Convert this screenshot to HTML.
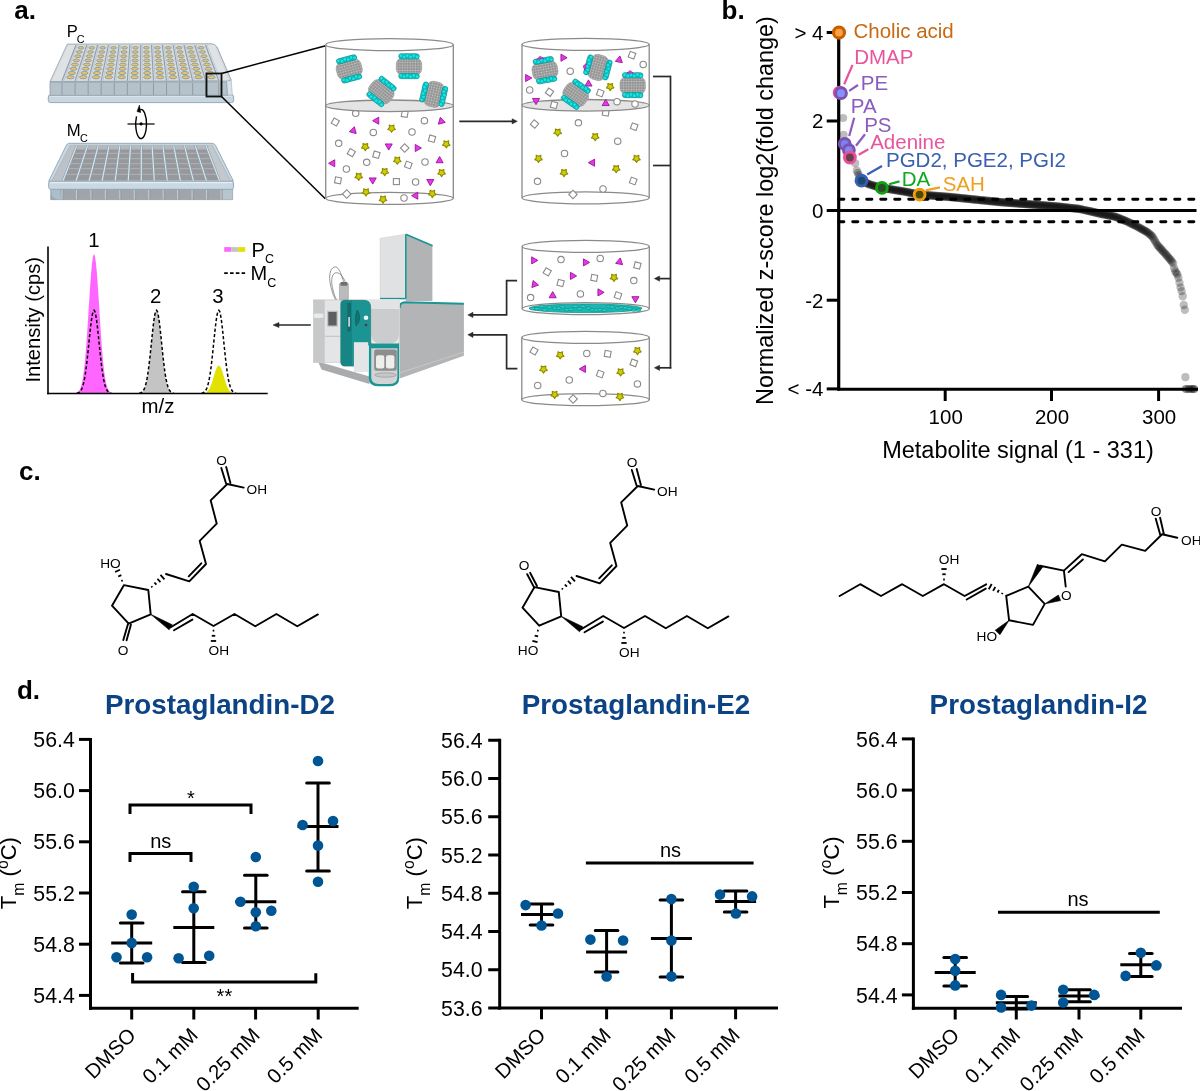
<!DOCTYPE html>
<html><head><meta charset="utf-8"><style>
html,body{margin:0;padding:0;background:#fff;width:1200px;height:1091px;overflow:hidden}
svg{display:block;will-change:transform;font-family:"Liberation Sans",sans-serif}
</style></head><body>
<svg width="1200" height="1091" viewBox="0 0 1200 1091">
<rect width="1200" height="1091" fill="#fff"/>
<defs>
<pattern id="speck" width="2.6" height="2.6" patternUnits="userSpaceOnUse">
<rect width="2.6" height="2.6" fill="#8e8e8e"/>
<circle cx="1.3" cy="1.3" r="0.95" fill="#c4c4c4"/>
</pattern>
</defs>
<text x="14.3" y="19.3" font-size="26" text-anchor="start" font-weight="bold" fill="#000" >a.</text>
<text x="66.8" y="36.8" font-size="16.5" text-anchor="start" font-weight="normal" fill="#000" >P</text>
<text x="76.8" y="42.7" font-size="10.8" text-anchor="start" font-weight="normal" fill="#000" >C</text>
<text x="66.8" y="135.9" font-size="16.7" text-anchor="start" font-weight="normal" fill="#000" >M</text>
<text x="79.9" y="141.9" font-size="10.8" text-anchor="start" font-weight="normal" fill="#000" >C</text>
<rect x="48.3" y="94.8" width="185.4" height="7.8" rx="2.2" fill="#c7d6df" stroke="#8ea4b4" stroke-width="0.9"/>
<line x1="50" y1="96.2" x2="232" y2="96.2" stroke="#e2ecf1" stroke-width="0.9" />
<polygon points="217,47 231.2,80.2 232.4,95 226,95 224,79" fill="#d9e3e9" stroke="#9fb1bd" stroke-width="0.6" />
<polygon points="50,81.6 226.5,80.6 227.5,95.2 50,95.4" fill="#b6c2c9" stroke="#8ea0ae" stroke-width="0.8" />
<line x1="50.5" y1="82.6" x2="226.5" y2="82.2" stroke="#a3b1bb" stroke-width="1" />
<path d="M67.3,44.1 L211,43.7 Q215,43.7 217,47 L231.2,80.2 L226.5,80.8 L50,81.6 Z" fill="#d6dbdf" stroke="#91a3b0" stroke-width="0.8" />
<polygon points="68.5,45 76,45 62,80.8 52,81" fill="#dfe2e4" stroke="none" stroke-width="0" />
<polygon points="205.5,45 214.5,45 228.5,80.4 218.8,80.6" fill="#dfe3e6" stroke="none" stroke-width="0" />
<line x1="62" y1="83" x2="62" y2="95" stroke="#8e9ca7" stroke-width="1" />
<line x1="75.07" y1="83" x2="75.07" y2="95" stroke="#8e9ca7" stroke-width="1" />
<line x1="88.13" y1="83" x2="88.13" y2="95" stroke="#8e9ca7" stroke-width="1" />
<line x1="101.2" y1="83" x2="101.2" y2="95" stroke="#8e9ca7" stroke-width="1" />
<line x1="114.27" y1="83" x2="114.27" y2="95" stroke="#8e9ca7" stroke-width="1" />
<line x1="127.33" y1="83" x2="127.33" y2="95" stroke="#8e9ca7" stroke-width="1" />
<line x1="140.4" y1="83" x2="140.4" y2="95" stroke="#8e9ca7" stroke-width="1" />
<line x1="153.47" y1="83" x2="153.47" y2="95" stroke="#8e9ca7" stroke-width="1" />
<line x1="166.53" y1="83" x2="166.53" y2="95" stroke="#8e9ca7" stroke-width="1" />
<line x1="179.6" y1="83" x2="179.6" y2="95" stroke="#8e9ca7" stroke-width="1" />
<line x1="192.67" y1="83" x2="192.67" y2="95" stroke="#8e9ca7" stroke-width="1" />
<line x1="205.73" y1="83" x2="205.73" y2="95" stroke="#8e9ca7" stroke-width="1" />
<line x1="218.8" y1="83" x2="218.8" y2="95" stroke="#8e9ca7" stroke-width="1" />
<line x1="76" y1="45" x2="62" y2="80.8" stroke="#8d9eab" stroke-width="1.1" />
<line x1="77.6" y1="45" x2="63.9" y2="80.8" stroke="#aebbc5" stroke-width="0.6" />
<line x1="86.79" y1="45" x2="75.07" y2="80.8" stroke="#8d9eab" stroke-width="1.1" />
<line x1="88.39" y1="45" x2="76.97" y2="80.8" stroke="#aebbc5" stroke-width="0.6" />
<line x1="97.58" y1="45" x2="88.13" y2="80.8" stroke="#8d9eab" stroke-width="1.1" />
<line x1="99.18" y1="45" x2="90.03" y2="80.8" stroke="#aebbc5" stroke-width="0.6" />
<line x1="108.38" y1="45" x2="101.2" y2="80.8" stroke="#8d9eab" stroke-width="1.1" />
<line x1="109.97" y1="45" x2="103.1" y2="80.8" stroke="#aebbc5" stroke-width="0.6" />
<line x1="119.17" y1="45" x2="114.27" y2="80.8" stroke="#8d9eab" stroke-width="1.1" />
<line x1="120.77" y1="45" x2="116.17" y2="80.8" stroke="#aebbc5" stroke-width="0.6" />
<line x1="129.96" y1="45" x2="127.33" y2="80.8" stroke="#8d9eab" stroke-width="1.1" />
<line x1="131.56" y1="45" x2="129.23" y2="80.8" stroke="#aebbc5" stroke-width="0.6" />
<line x1="140.75" y1="45" x2="140.4" y2="80.8" stroke="#8d9eab" stroke-width="1.1" />
<line x1="142.35" y1="45" x2="142.3" y2="80.8" stroke="#aebbc5" stroke-width="0.6" />
<line x1="151.54" y1="45" x2="153.47" y2="80.8" stroke="#8d9eab" stroke-width="1.1" />
<line x1="153.14" y1="45" x2="155.37" y2="80.8" stroke="#aebbc5" stroke-width="0.6" />
<line x1="162.33" y1="45" x2="166.53" y2="80.8" stroke="#8d9eab" stroke-width="1.1" />
<line x1="163.93" y1="45" x2="168.43" y2="80.8" stroke="#aebbc5" stroke-width="0.6" />
<line x1="173.12" y1="45" x2="179.6" y2="80.8" stroke="#8d9eab" stroke-width="1.1" />
<line x1="174.72" y1="45" x2="181.5" y2="80.8" stroke="#aebbc5" stroke-width="0.6" />
<line x1="183.92" y1="45" x2="192.67" y2="80.8" stroke="#8d9eab" stroke-width="1.1" />
<line x1="185.52" y1="45" x2="194.57" y2="80.8" stroke="#aebbc5" stroke-width="0.6" />
<line x1="194.71" y1="45" x2="205.73" y2="80.8" stroke="#8d9eab" stroke-width="1.1" />
<line x1="196.31" y1="45" x2="207.63" y2="80.8" stroke="#aebbc5" stroke-width="0.6" />
<line x1="205.5" y1="45" x2="218.8" y2="80.8" stroke="#8d9eab" stroke-width="1.1" />
<line x1="207.1" y1="45" x2="220.7" y2="80.8" stroke="#aebbc5" stroke-width="0.6" />
<ellipse cx="80.9" cy="47.8" rx="2.9" ry="1.25" fill="#dfc672" stroke="#7e8891" stroke-width="0.7"/>
<ellipse cx="91.82" cy="47.8" rx="2.9" ry="1.25" fill="#dfc672" stroke="#7e8891" stroke-width="0.7"/>
<ellipse cx="102.74" cy="47.8" rx="2.9" ry="1.25" fill="#dfc672" stroke="#7e8891" stroke-width="0.7"/>
<ellipse cx="113.65" cy="47.8" rx="2.9" ry="1.25" fill="#dfc672" stroke="#7e8891" stroke-width="0.7"/>
<ellipse cx="124.57" cy="47.8" rx="2.9" ry="1.25" fill="#dfc672" stroke="#7e8891" stroke-width="0.7"/>
<ellipse cx="135.49" cy="47.8" rx="2.9" ry="1.25" fill="#dfc672" stroke="#7e8891" stroke-width="0.7"/>
<ellipse cx="146.41" cy="47.8" rx="2.9" ry="1.25" fill="#dfc672" stroke="#7e8891" stroke-width="0.7"/>
<ellipse cx="157.33" cy="47.8" rx="2.9" ry="1.25" fill="#dfc672" stroke="#7e8891" stroke-width="0.7"/>
<ellipse cx="168.25" cy="47.8" rx="2.9" ry="1.25" fill="#dfc672" stroke="#7e8891" stroke-width="0.7"/>
<ellipse cx="179.16" cy="47.8" rx="2.9" ry="1.25" fill="#dfc672" stroke="#7e8891" stroke-width="0.7"/>
<ellipse cx="190.08" cy="47.8" rx="2.9" ry="1.25" fill="#dfc672" stroke="#7e8891" stroke-width="0.7"/>
<ellipse cx="201" cy="47.8" rx="2.9" ry="1.25" fill="#dfc672" stroke="#7e8891" stroke-width="0.7"/>
<ellipse cx="79.4" cy="52" rx="3.01" ry="1.3" fill="#dfc672" stroke="#7e8891" stroke-width="0.7"/>
<ellipse cx="90.59" cy="52" rx="3.01" ry="1.3" fill="#dfc672" stroke="#7e8891" stroke-width="0.7"/>
<ellipse cx="101.78" cy="52" rx="3.01" ry="1.3" fill="#dfc672" stroke="#7e8891" stroke-width="0.7"/>
<ellipse cx="112.97" cy="52" rx="3.01" ry="1.3" fill="#dfc672" stroke="#7e8891" stroke-width="0.7"/>
<ellipse cx="124.16" cy="52" rx="3.01" ry="1.3" fill="#dfc672" stroke="#7e8891" stroke-width="0.7"/>
<ellipse cx="135.35" cy="52" rx="3.01" ry="1.3" fill="#dfc672" stroke="#7e8891" stroke-width="0.7"/>
<ellipse cx="146.55" cy="52" rx="3.01" ry="1.3" fill="#dfc672" stroke="#7e8891" stroke-width="0.7"/>
<ellipse cx="157.74" cy="52" rx="3.01" ry="1.3" fill="#dfc672" stroke="#7e8891" stroke-width="0.7"/>
<ellipse cx="168.93" cy="52" rx="3.01" ry="1.3" fill="#dfc672" stroke="#7e8891" stroke-width="0.7"/>
<ellipse cx="180.12" cy="52" rx="3.01" ry="1.3" fill="#dfc672" stroke="#7e8891" stroke-width="0.7"/>
<ellipse cx="191.31" cy="52" rx="3.01" ry="1.3" fill="#dfc672" stroke="#7e8891" stroke-width="0.7"/>
<ellipse cx="202.5" cy="52" rx="3.01" ry="1.3" fill="#dfc672" stroke="#7e8891" stroke-width="0.7"/>
<ellipse cx="77.9" cy="56.2" rx="3.13" ry="1.35" fill="#dfc672" stroke="#7e8891" stroke-width="0.7"/>
<ellipse cx="89.36" cy="56.2" rx="3.13" ry="1.35" fill="#dfc672" stroke="#7e8891" stroke-width="0.7"/>
<ellipse cx="100.83" cy="56.2" rx="3.13" ry="1.35" fill="#dfc672" stroke="#7e8891" stroke-width="0.7"/>
<ellipse cx="112.29" cy="56.2" rx="3.13" ry="1.35" fill="#dfc672" stroke="#7e8891" stroke-width="0.7"/>
<ellipse cx="123.75" cy="56.2" rx="3.13" ry="1.35" fill="#dfc672" stroke="#7e8891" stroke-width="0.7"/>
<ellipse cx="135.22" cy="56.2" rx="3.13" ry="1.35" fill="#dfc672" stroke="#7e8891" stroke-width="0.7"/>
<ellipse cx="146.68" cy="56.2" rx="3.13" ry="1.35" fill="#dfc672" stroke="#7e8891" stroke-width="0.7"/>
<ellipse cx="158.15" cy="56.2" rx="3.13" ry="1.35" fill="#dfc672" stroke="#7e8891" stroke-width="0.7"/>
<ellipse cx="169.61" cy="56.2" rx="3.13" ry="1.35" fill="#dfc672" stroke="#7e8891" stroke-width="0.7"/>
<ellipse cx="181.07" cy="56.2" rx="3.13" ry="1.35" fill="#dfc672" stroke="#7e8891" stroke-width="0.7"/>
<ellipse cx="192.54" cy="56.2" rx="3.13" ry="1.35" fill="#dfc672" stroke="#7e8891" stroke-width="0.7"/>
<ellipse cx="204" cy="56.2" rx="3.13" ry="1.35" fill="#dfc672" stroke="#7e8891" stroke-width="0.7"/>
<ellipse cx="76.4" cy="60.4" rx="3.24" ry="1.4" fill="#dfc672" stroke="#7e8891" stroke-width="0.7"/>
<ellipse cx="88.14" cy="60.4" rx="3.24" ry="1.4" fill="#dfc672" stroke="#7e8891" stroke-width="0.7"/>
<ellipse cx="99.87" cy="60.4" rx="3.24" ry="1.4" fill="#dfc672" stroke="#7e8891" stroke-width="0.7"/>
<ellipse cx="111.61" cy="60.4" rx="3.24" ry="1.4" fill="#dfc672" stroke="#7e8891" stroke-width="0.7"/>
<ellipse cx="123.35" cy="60.4" rx="3.24" ry="1.4" fill="#dfc672" stroke="#7e8891" stroke-width="0.7"/>
<ellipse cx="135.08" cy="60.4" rx="3.24" ry="1.4" fill="#dfc672" stroke="#7e8891" stroke-width="0.7"/>
<ellipse cx="146.82" cy="60.4" rx="3.24" ry="1.4" fill="#dfc672" stroke="#7e8891" stroke-width="0.7"/>
<ellipse cx="158.55" cy="60.4" rx="3.24" ry="1.4" fill="#dfc672" stroke="#7e8891" stroke-width="0.7"/>
<ellipse cx="170.29" cy="60.4" rx="3.24" ry="1.4" fill="#dfc672" stroke="#7e8891" stroke-width="0.7"/>
<ellipse cx="182.03" cy="60.4" rx="3.24" ry="1.4" fill="#dfc672" stroke="#7e8891" stroke-width="0.7"/>
<ellipse cx="193.76" cy="60.4" rx="3.24" ry="1.4" fill="#dfc672" stroke="#7e8891" stroke-width="0.7"/>
<ellipse cx="205.5" cy="60.4" rx="3.24" ry="1.4" fill="#dfc672" stroke="#7e8891" stroke-width="0.7"/>
<ellipse cx="74.9" cy="64.6" rx="3.36" ry="1.45" fill="#dfc672" stroke="#7e8891" stroke-width="0.7"/>
<ellipse cx="86.91" cy="64.6" rx="3.36" ry="1.45" fill="#dfc672" stroke="#7e8891" stroke-width="0.7"/>
<ellipse cx="98.92" cy="64.6" rx="3.36" ry="1.45" fill="#dfc672" stroke="#7e8891" stroke-width="0.7"/>
<ellipse cx="110.93" cy="64.6" rx="3.36" ry="1.45" fill="#dfc672" stroke="#7e8891" stroke-width="0.7"/>
<ellipse cx="122.94" cy="64.6" rx="3.36" ry="1.45" fill="#dfc672" stroke="#7e8891" stroke-width="0.7"/>
<ellipse cx="134.95" cy="64.6" rx="3.36" ry="1.45" fill="#dfc672" stroke="#7e8891" stroke-width="0.7"/>
<ellipse cx="146.95" cy="64.6" rx="3.36" ry="1.45" fill="#dfc672" stroke="#7e8891" stroke-width="0.7"/>
<ellipse cx="158.96" cy="64.6" rx="3.36" ry="1.45" fill="#dfc672" stroke="#7e8891" stroke-width="0.7"/>
<ellipse cx="170.97" cy="64.6" rx="3.36" ry="1.45" fill="#dfc672" stroke="#7e8891" stroke-width="0.7"/>
<ellipse cx="182.98" cy="64.6" rx="3.36" ry="1.45" fill="#dfc672" stroke="#7e8891" stroke-width="0.7"/>
<ellipse cx="194.99" cy="64.6" rx="3.36" ry="1.45" fill="#dfc672" stroke="#7e8891" stroke-width="0.7"/>
<ellipse cx="207" cy="64.6" rx="3.36" ry="1.45" fill="#dfc672" stroke="#7e8891" stroke-width="0.7"/>
<ellipse cx="73.4" cy="68.8" rx="3.47" ry="1.5" fill="#dfc672" stroke="#7e8891" stroke-width="0.7"/>
<ellipse cx="85.68" cy="68.8" rx="3.47" ry="1.5" fill="#dfc672" stroke="#7e8891" stroke-width="0.7"/>
<ellipse cx="97.96" cy="68.8" rx="3.47" ry="1.5" fill="#dfc672" stroke="#7e8891" stroke-width="0.7"/>
<ellipse cx="110.25" cy="68.8" rx="3.47" ry="1.5" fill="#dfc672" stroke="#7e8891" stroke-width="0.7"/>
<ellipse cx="122.53" cy="68.8" rx="3.47" ry="1.5" fill="#dfc672" stroke="#7e8891" stroke-width="0.7"/>
<ellipse cx="134.81" cy="68.8" rx="3.47" ry="1.5" fill="#dfc672" stroke="#7e8891" stroke-width="0.7"/>
<ellipse cx="147.09" cy="68.8" rx="3.47" ry="1.5" fill="#dfc672" stroke="#7e8891" stroke-width="0.7"/>
<ellipse cx="159.37" cy="68.8" rx="3.47" ry="1.5" fill="#dfc672" stroke="#7e8891" stroke-width="0.7"/>
<ellipse cx="171.65" cy="68.8" rx="3.47" ry="1.5" fill="#dfc672" stroke="#7e8891" stroke-width="0.7"/>
<ellipse cx="183.94" cy="68.8" rx="3.47" ry="1.5" fill="#dfc672" stroke="#7e8891" stroke-width="0.7"/>
<ellipse cx="196.22" cy="68.8" rx="3.47" ry="1.5" fill="#dfc672" stroke="#7e8891" stroke-width="0.7"/>
<ellipse cx="208.5" cy="68.8" rx="3.47" ry="1.5" fill="#dfc672" stroke="#7e8891" stroke-width="0.7"/>
<ellipse cx="71.9" cy="73" rx="3.59" ry="1.55" fill="#dfc672" stroke="#7e8891" stroke-width="0.7"/>
<ellipse cx="84.45" cy="73" rx="3.59" ry="1.55" fill="#dfc672" stroke="#7e8891" stroke-width="0.7"/>
<ellipse cx="97.01" cy="73" rx="3.59" ry="1.55" fill="#dfc672" stroke="#7e8891" stroke-width="0.7"/>
<ellipse cx="109.56" cy="73" rx="3.59" ry="1.55" fill="#dfc672" stroke="#7e8891" stroke-width="0.7"/>
<ellipse cx="122.12" cy="73" rx="3.59" ry="1.55" fill="#dfc672" stroke="#7e8891" stroke-width="0.7"/>
<ellipse cx="134.67" cy="73" rx="3.59" ry="1.55" fill="#dfc672" stroke="#7e8891" stroke-width="0.7"/>
<ellipse cx="147.23" cy="73" rx="3.59" ry="1.55" fill="#dfc672" stroke="#7e8891" stroke-width="0.7"/>
<ellipse cx="159.78" cy="73" rx="3.59" ry="1.55" fill="#dfc672" stroke="#7e8891" stroke-width="0.7"/>
<ellipse cx="172.34" cy="73" rx="3.59" ry="1.55" fill="#dfc672" stroke="#7e8891" stroke-width="0.7"/>
<ellipse cx="184.89" cy="73" rx="3.59" ry="1.55" fill="#dfc672" stroke="#7e8891" stroke-width="0.7"/>
<ellipse cx="197.45" cy="73" rx="3.59" ry="1.55" fill="#dfc672" stroke="#7e8891" stroke-width="0.7"/>
<ellipse cx="210" cy="73" rx="3.59" ry="1.55" fill="#dfc672" stroke="#7e8891" stroke-width="0.7"/>
<ellipse cx="70.4" cy="77.2" rx="3.7" ry="1.6" fill="#dfc672" stroke="#7e8891" stroke-width="0.7"/>
<ellipse cx="83.23" cy="77.2" rx="3.7" ry="1.6" fill="#dfc672" stroke="#7e8891" stroke-width="0.7"/>
<ellipse cx="96.05" cy="77.2" rx="3.7" ry="1.6" fill="#dfc672" stroke="#7e8891" stroke-width="0.7"/>
<ellipse cx="108.88" cy="77.2" rx="3.7" ry="1.6" fill="#dfc672" stroke="#7e8891" stroke-width="0.7"/>
<ellipse cx="121.71" cy="77.2" rx="3.7" ry="1.6" fill="#dfc672" stroke="#7e8891" stroke-width="0.7"/>
<ellipse cx="134.54" cy="77.2" rx="3.7" ry="1.6" fill="#dfc672" stroke="#7e8891" stroke-width="0.7"/>
<ellipse cx="147.36" cy="77.2" rx="3.7" ry="1.6" fill="#dfc672" stroke="#7e8891" stroke-width="0.7"/>
<ellipse cx="160.19" cy="77.2" rx="3.7" ry="1.6" fill="#dfc672" stroke="#7e8891" stroke-width="0.7"/>
<ellipse cx="173.02" cy="77.2" rx="3.7" ry="1.6" fill="#dfc672" stroke="#7e8891" stroke-width="0.7"/>
<ellipse cx="185.85" cy="77.2" rx="3.7" ry="1.6" fill="#dfc672" stroke="#7e8891" stroke-width="0.7"/>
<ellipse cx="198.67" cy="77.2" rx="3.7" ry="1.6" fill="#dfc672" stroke="#7e8891" stroke-width="0.7"/>
<ellipse cx="211.5" cy="77.2" rx="3.7" ry="1.6" fill="#dfc672" stroke="#7e8891" stroke-width="0.7"/>
<rect x="50.8" y="189" width="181.9" height="10.7" fill="#a1a5a9" stroke="#8ea0ae" stroke-width="0.8"/>
<polygon points="51,189 60,189 61,199.6 57,199.6 52,196.5" fill="#a9c0cc" stroke="none" stroke-width="0" />
<polygon points="222,189 232.5,189 232.5,199.6 222,199.6" fill="#b9c5cc" stroke="none" stroke-width="0" />
<line x1="62" y1="189.5" x2="62" y2="199.4" stroke="#c9d3da" stroke-width="0.9" />
<line x1="63.4" y1="189.5" x2="63.4" y2="199.4" stroke="#8e9ba5" stroke-width="0.7" />
<line x1="76.45" y1="189.5" x2="76.45" y2="199.4" stroke="#c9d3da" stroke-width="0.9" />
<line x1="77.85" y1="189.5" x2="77.85" y2="199.4" stroke="#8e9ba5" stroke-width="0.7" />
<line x1="90.91" y1="189.5" x2="90.91" y2="199.4" stroke="#c9d3da" stroke-width="0.9" />
<line x1="92.31" y1="189.5" x2="92.31" y2="199.4" stroke="#8e9ba5" stroke-width="0.7" />
<line x1="105.36" y1="189.5" x2="105.36" y2="199.4" stroke="#c9d3da" stroke-width="0.9" />
<line x1="106.76" y1="189.5" x2="106.76" y2="199.4" stroke="#8e9ba5" stroke-width="0.7" />
<line x1="119.82" y1="189.5" x2="119.82" y2="199.4" stroke="#c9d3da" stroke-width="0.9" />
<line x1="121.22" y1="189.5" x2="121.22" y2="199.4" stroke="#8e9ba5" stroke-width="0.7" />
<line x1="134.27" y1="189.5" x2="134.27" y2="199.4" stroke="#c9d3da" stroke-width="0.9" />
<line x1="135.67" y1="189.5" x2="135.67" y2="199.4" stroke="#8e9ba5" stroke-width="0.7" />
<line x1="148.73" y1="189.5" x2="148.73" y2="199.4" stroke="#c9d3da" stroke-width="0.9" />
<line x1="150.13" y1="189.5" x2="150.13" y2="199.4" stroke="#8e9ba5" stroke-width="0.7" />
<line x1="163.18" y1="189.5" x2="163.18" y2="199.4" stroke="#c9d3da" stroke-width="0.9" />
<line x1="164.58" y1="189.5" x2="164.58" y2="199.4" stroke="#8e9ba5" stroke-width="0.7" />
<line x1="177.64" y1="189.5" x2="177.64" y2="199.4" stroke="#c9d3da" stroke-width="0.9" />
<line x1="179.04" y1="189.5" x2="179.04" y2="199.4" stroke="#8e9ba5" stroke-width="0.7" />
<line x1="192.09" y1="189.5" x2="192.09" y2="199.4" stroke="#c9d3da" stroke-width="0.9" />
<line x1="193.49" y1="189.5" x2="193.49" y2="199.4" stroke="#8e9ba5" stroke-width="0.7" />
<line x1="206.55" y1="189.5" x2="206.55" y2="199.4" stroke="#c9d3da" stroke-width="0.9" />
<line x1="207.95" y1="189.5" x2="207.95" y2="199.4" stroke="#8e9ba5" stroke-width="0.7" />
<line x1="221" y1="189.5" x2="221" y2="199.4" stroke="#c9d3da" stroke-width="0.9" />
<line x1="222.4" y1="189.5" x2="222.4" y2="199.4" stroke="#8e9ba5" stroke-width="0.7" />
<rect x="48.7" y="181" width="184.8" height="8.3" rx="2" fill="#c9d8e2" stroke="#8ea4b4" stroke-width="0.9"/>
<line x1="50" y1="182.6" x2="232" y2="182.6" stroke="#e3edf3" stroke-width="1.2" />
<path d="M69.5,143.3 L212,143.3 Q214.5,143.3 215.5,145.5 L233.3,180.8 L48.7,181.2 L66,146 Q67,143.3 69.5,143.3 Z" fill="#c9d8e1" stroke="#8ea4b4" stroke-width="0.9" />
<polygon points="70,145.4 212.3,145.4 230.4,180.6 51.8,181" fill="#96989b" stroke="#a9bcc8" stroke-width="0.8" />
<polygon points="70,145.4 212.3,145.4 214.2,149.5 68.2,149.5" fill="#b5b9bd" stroke="none" stroke-width="0" />
<polygon points="70.2,145.6 76.7,145.6 63,180.8 52.2,180.8" fill="#bcc2c7" stroke="none" stroke-width="0" />
<polygon points="206,145.6 212,145.6 230,180.6 219.5,180.6" fill="#c3c8cc" stroke="none" stroke-width="0" />
<line x1="73.66" y1="153.3" x2="209" y2="153.3" stroke="#b2b6ba" stroke-width="0.9" />
<line x1="71.58" y1="158.7" x2="211.04" y2="158.7" stroke="#b2b6ba" stroke-width="0.9" />
<line x1="69.66" y1="163.7" x2="212.94" y2="163.7" stroke="#b2b6ba" stroke-width="0.9" />
<line x1="67.73" y1="168.7" x2="214.84" y2="168.7" stroke="#b2b6ba" stroke-width="0.9" />
<line x1="65.58" y1="174.3" x2="216.96" y2="174.3" stroke="#b2b6ba" stroke-width="0.9" />
<line x1="76.7" y1="145.6" x2="63" y2="180.8" stroke="#8da2b1" stroke-width="2.4" />
<line x1="76.7" y1="145.6" x2="63" y2="180.8" stroke="#dce7ee" stroke-width="1.1" />
<line x1="87.48" y1="145.6" x2="76.04" y2="180.8" stroke="#8da2b1" stroke-width="2.4" />
<line x1="87.48" y1="145.6" x2="76.04" y2="180.8" stroke="#dce7ee" stroke-width="1.1" />
<line x1="98.25" y1="145.6" x2="89.08" y2="180.8" stroke="#8da2b1" stroke-width="2.4" />
<line x1="98.25" y1="145.6" x2="89.08" y2="180.8" stroke="#dce7ee" stroke-width="1.1" />
<line x1="109.03" y1="145.6" x2="102.12" y2="180.8" stroke="#8da2b1" stroke-width="2.4" />
<line x1="109.03" y1="145.6" x2="102.12" y2="180.8" stroke="#dce7ee" stroke-width="1.1" />
<line x1="119.8" y1="145.6" x2="115.17" y2="180.8" stroke="#8da2b1" stroke-width="2.4" />
<line x1="119.8" y1="145.6" x2="115.17" y2="180.8" stroke="#dce7ee" stroke-width="1.1" />
<line x1="130.57" y1="145.6" x2="128.21" y2="180.8" stroke="#8da2b1" stroke-width="2.4" />
<line x1="130.57" y1="145.6" x2="128.21" y2="180.8" stroke="#dce7ee" stroke-width="1.1" />
<line x1="141.35" y1="145.6" x2="141.25" y2="180.8" stroke="#8da2b1" stroke-width="2.4" />
<line x1="141.35" y1="145.6" x2="141.25" y2="180.8" stroke="#dce7ee" stroke-width="1.1" />
<line x1="152.12" y1="145.6" x2="154.29" y2="180.8" stroke="#8da2b1" stroke-width="2.4" />
<line x1="152.12" y1="145.6" x2="154.29" y2="180.8" stroke="#dce7ee" stroke-width="1.1" />
<line x1="162.9" y1="145.6" x2="167.33" y2="180.8" stroke="#8da2b1" stroke-width="2.4" />
<line x1="162.9" y1="145.6" x2="167.33" y2="180.8" stroke="#dce7ee" stroke-width="1.1" />
<line x1="173.68" y1="145.6" x2="180.38" y2="180.8" stroke="#8da2b1" stroke-width="2.4" />
<line x1="173.68" y1="145.6" x2="180.38" y2="180.8" stroke="#dce7ee" stroke-width="1.1" />
<line x1="184.45" y1="145.6" x2="193.42" y2="180.8" stroke="#8da2b1" stroke-width="2.4" />
<line x1="184.45" y1="145.6" x2="193.42" y2="180.8" stroke="#dce7ee" stroke-width="1.1" />
<line x1="195.23" y1="145.6" x2="206.46" y2="180.8" stroke="#8da2b1" stroke-width="2.4" />
<line x1="195.23" y1="145.6" x2="206.46" y2="180.8" stroke="#dce7ee" stroke-width="1.1" />
<line x1="206" y1="145.6" x2="219.5" y2="180.8" stroke="#8da2b1" stroke-width="2.4" />
<line x1="206" y1="145.6" x2="219.5" y2="180.8" stroke="#dce7ee" stroke-width="1.1" />
<line x1="127.5" y1="124" x2="154.6" y2="124" stroke="#333" stroke-width="1.5" />
<path d="M136.5,116.3 A5.4,14.6 0 1 0 140.2,109.6" fill="none" stroke="#000" stroke-width="1.4" />
<polygon points="139.4,105 137,111.6 140.7,112.6" fill="#000" stroke="#000" stroke-width="0.5" />
<circle cx="141.1" cy="123.8" r="1.6" fill="#000" />
<line x1="221.5" y1="73.5" x2="325.7" y2="45.7" stroke="#000" stroke-width="1.5" />
<line x1="221.5" y1="96.5" x2="325.3" y2="198.7" stroke="#000" stroke-width="1.5" />
<rect x="206.5" y="73.5" width="15" height="23" fill="none" stroke="#111" stroke-width="1.8"/>
<ellipse cx="389.5" cy="198.3" rx="63.8" ry="6" fill="#fff" stroke="#8a8a8a" stroke-width="1.3"/>
<line x1="325.7" y1="44.7" x2="325.7" y2="198.3" stroke="#8a8a8a" stroke-width="1.3" />
<line x1="453.3" y1="44.7" x2="453.3" y2="198.3" stroke="#8a8a8a" stroke-width="1.3" />
<ellipse cx="389.5" cy="44.7" rx="63.8" ry="6" fill="none" stroke="#8a8a8a" stroke-width="1.3"/>
<circle cx="355.7" cy="113.3" r="3.2" fill="#fff" stroke="#8a8a8a" stroke-width="1.1"/>
<rect x="401.7" y="111" width="6" height="6" fill="#fff" stroke="#8a8a8a" stroke-width="1.1" transform="rotate(10 404.7 114)"/>
<rect x="332.3" y="119" width="6" height="6" fill="#fff" stroke="#8a8a8a" stroke-width="1.1" transform="rotate(30 335.3 122)"/>
<rect x="429" y="135.7" width="6" height="6" fill="#fff" stroke="#8a8a8a" stroke-width="1.1" transform="rotate(15 432 138.7)"/>
<rect x="348.3" y="149.7" width="6" height="6" fill="#fff" stroke="#8a8a8a" stroke-width="1.1" transform="rotate(30 351.3 152.7)"/>
<rect x="373.4" y="151.7" width="6" height="6" fill="#fff" stroke="#8a8a8a" stroke-width="1.1" transform="rotate(15 376.4 154.7)"/>
<rect x="401.7" y="145" width="6" height="6" fill="#fff" stroke="#8a8a8a" stroke-width="1.1" transform="rotate(45 404.7 148)"/>
<rect x="405.3" y="162" width="6" height="6" fill="#fff" stroke="#8a8a8a" stroke-width="1.1" transform="rotate(20 408.3 165)"/>
<rect x="335" y="177.3" width="6" height="6" fill="#fff" stroke="#8a8a8a" stroke-width="1.1" transform="rotate(10 338 180.3)"/>
<rect x="393.4" y="178.6" width="6" height="6" fill="#fff" stroke="#8a8a8a" stroke-width="1.1" transform="rotate(0 396.4 181.6)"/>
<rect x="343.7" y="191" width="6" height="6" fill="#fff" stroke="#8a8a8a" stroke-width="1.1" transform="rotate(45 346.7 194)"/>
<circle cx="424.4" cy="120.7" r="3.2" fill="#fff" stroke="#8a8a8a" stroke-width="1.1"/>
<circle cx="373.3" cy="132.4" r="3.2" fill="#fff" stroke="#8a8a8a" stroke-width="1.1"/>
<circle cx="412" cy="132" r="3.2" fill="#fff" stroke="#8a8a8a" stroke-width="1.1"/>
<circle cx="338.7" cy="143.3" r="3.2" fill="#fff" stroke="#8a8a8a" stroke-width="1.1"/>
<circle cx="366.7" cy="162.3" r="3.2" fill="#fff" stroke="#8a8a8a" stroke-width="1.1"/>
<circle cx="346.4" cy="169" r="3.2" fill="#fff" stroke="#8a8a8a" stroke-width="1.1"/>
<circle cx="425" cy="162" r="3.2" fill="#fff" stroke="#8a8a8a" stroke-width="1.1"/>
<circle cx="415.6" cy="182" r="3.2" fill="#fff" stroke="#8a8a8a" stroke-width="1.1"/>
<circle cx="404" cy="198" r="3.2" fill="#fff" stroke="#8a8a8a" stroke-width="1.1"/>
<polygon points="372.6,120.7 378.75,117.15 378.75,124.25" fill="#e23be2" stroke="#a010a0" stroke-width="0.9" stroke-linejoin="round"/>
<polygon points="445.24,122.43 438.35,124.15 440.31,117.32" fill="#e23be2" stroke="#a010a0" stroke-width="0.9" stroke-linejoin="round"/>
<polygon points="349.34,131.76 354.36,126.74 356.2,133.6" fill="#e23be2" stroke="#a010a0" stroke-width="0.9" stroke-linejoin="round"/>
<polygon points="388.7,150.1 385.15,143.95 392.25,143.95" fill="#e23be2" stroke="#a010a0" stroke-width="0.9" stroke-linejoin="round"/>
<polygon points="415.25,151.55 415.25,144.45 421.4,148" fill="#e23be2" stroke="#a010a0" stroke-width="0.9" stroke-linejoin="round"/>
<polygon points="328.6,163.3 334.75,159.75 334.75,166.85" fill="#e23be2" stroke="#a010a0" stroke-width="0.9" stroke-linejoin="round"/>
<polygon points="439.6,156.6 443.15,162.75 436.05,162.75" fill="#e23be2" stroke="#a010a0" stroke-width="0.9" stroke-linejoin="round"/>
<polygon points="376.25,177.95 372.7,184.1 369.15,177.95" fill="#e23be2" stroke="#a010a0" stroke-width="0.9" stroke-linejoin="round"/>
<polygon points="430.3,185.7 426.75,179.55 433.85,179.55" fill="#e23be2" stroke="#a010a0" stroke-width="0.9" stroke-linejoin="round"/>
<polygon points="411.6,195.7 417.75,192.15 417.75,199.25" fill="#e23be2" stroke="#a010a0" stroke-width="0.9" stroke-linejoin="round"/>
<polygon points="391.6,132.3 390.24,130.18 387.8,129.54 389.39,127.58 389.25,125.06 391.6,125.98 393.95,125.06 393.81,127.58 395.4,129.54 392.96,130.18" fill="#d2ce00" stroke="#8c8a00" stroke-width="1.1" stroke-linejoin="round"/>
<polygon points="365.3,150.7 363.94,148.58 361.5,147.94 363.09,145.98 362.95,143.46 365.3,144.38 367.65,143.46 367.51,145.98 369.1,147.94 366.66,148.58" fill="#d2ce00" stroke="#8c8a00" stroke-width="1.1" stroke-linejoin="round"/>
<polygon points="446.3,148 444.94,145.88 442.5,145.24 444.09,143.28 443.95,140.76 446.3,141.68 448.65,140.76 448.51,143.28 450.1,145.24 447.66,145.88" fill="#d2ce00" stroke="#8c8a00" stroke-width="1.1" stroke-linejoin="round"/>
<polygon points="397.3,164.3 395.94,162.18 393.5,161.54 395.09,159.58 394.95,157.06 397.3,157.98 399.65,157.06 399.51,159.58 401.1,161.54 398.66,162.18" fill="#d2ce00" stroke="#8c8a00" stroke-width="1.1" stroke-linejoin="round"/>
<polygon points="384.7,175.7 383.34,173.58 380.9,172.94 382.49,170.98 382.35,168.46 384.7,169.38 387.05,168.46 386.91,170.98 388.5,172.94 386.06,173.58" fill="#d2ce00" stroke="#8c8a00" stroke-width="1.1" stroke-linejoin="round"/>
<polygon points="441.6,176.7 440.24,174.58 437.8,173.94 439.39,171.98 439.25,169.46 441.6,170.38 443.95,169.46 443.81,171.98 445.4,173.94 442.96,174.58" fill="#d2ce00" stroke="#8c8a00" stroke-width="1.1" stroke-linejoin="round"/>
<polygon points="358.7,180.4 357.34,178.28 354.9,177.64 356.49,175.68 356.35,173.16 358.7,174.08 361.05,173.16 360.91,175.68 362.5,177.64 360.06,178.28" fill="#d2ce00" stroke="#8c8a00" stroke-width="1.1" stroke-linejoin="round"/>
<polygon points="366,196 364.64,193.88 362.2,193.24 363.79,191.28 363.65,188.76 366,189.68 368.35,188.76 368.21,191.28 369.8,193.24 367.36,193.88" fill="#d2ce00" stroke="#8c8a00" stroke-width="1.1" stroke-linejoin="round"/>
<polygon points="383,203.3 381.64,201.18 379.2,200.54 380.79,198.58 380.65,196.06 383,196.98 385.35,196.06 385.21,198.58 386.8,200.54 384.36,201.18" fill="#d2ce00" stroke="#8c8a00" stroke-width="1.1" stroke-linejoin="round"/>
<polygon points="432.3,197.6 430.94,195.48 428.5,194.84 430.09,192.88 429.95,190.36 432.3,191.28 434.65,190.36 434.51,192.88 436.1,194.84 433.66,195.48" fill="#d2ce00" stroke="#8c8a00" stroke-width="1.1" stroke-linejoin="round"/>
<ellipse cx="389.5" cy="105.8" rx="63.8" ry="5.8" fill="#e4e4e4" stroke="#8a8a8a" stroke-width="1.3"/>
<g transform="translate(349.2,69.2) rotate(-15)"><rect x="-12.7" y="-8.5" width="25.4" height="17" rx="6" fill="url(#speck)" stroke="#9a9a9a" stroke-width="0.6"/><rect x="-10.2" y="-12.8" width="20.4" height="5.2" rx="2.5" fill="#12cfcf" stroke="#0b8585" stroke-width="0.6"/><circle cx="-8.1" cy="-10.8" r="1.9" fill="#14e6e6" stroke="#0a8a8a" stroke-width="0.45"/><circle cx="-4.86" cy="-9.6" r="1.9" fill="#14e6e6" stroke="#0a8a8a" stroke-width="0.45"/><circle cx="-1.62" cy="-10.8" r="1.9" fill="#14e6e6" stroke="#0a8a8a" stroke-width="0.45"/><circle cx="1.62" cy="-9.6" r="1.9" fill="#14e6e6" stroke="#0a8a8a" stroke-width="0.45"/><circle cx="4.86" cy="-10.8" r="1.9" fill="#14e6e6" stroke="#0a8a8a" stroke-width="0.45"/><circle cx="8.1" cy="-9.6" r="1.9" fill="#14e6e6" stroke="#0a8a8a" stroke-width="0.45"/><rect x="-10.2" y="7" width="20.4" height="5.2" rx="2.5" fill="#12cfcf" stroke="#0b8585" stroke-width="0.6"/><circle cx="-8.1" cy="9" r="1.9" fill="#14e6e6" stroke="#0a8a8a" stroke-width="0.45"/><circle cx="-4.86" cy="10.2" r="1.9" fill="#14e6e6" stroke="#0a8a8a" stroke-width="0.45"/><circle cx="-1.62" cy="9" r="1.9" fill="#14e6e6" stroke="#0a8a8a" stroke-width="0.45"/><circle cx="1.62" cy="10.2" r="1.9" fill="#14e6e6" stroke="#0a8a8a" stroke-width="0.45"/><circle cx="4.86" cy="9" r="1.9" fill="#14e6e6" stroke="#0a8a8a" stroke-width="0.45"/><circle cx="8.1" cy="10.2" r="1.9" fill="#14e6e6" stroke="#0a8a8a" stroke-width="0.45"/></g>
<g transform="translate(409,66.5) rotate(0)"><rect x="-12.7" y="-8.5" width="25.4" height="17" rx="6" fill="url(#speck)" stroke="#9a9a9a" stroke-width="0.6"/><rect x="-10.2" y="-12.8" width="20.4" height="5.2" rx="2.5" fill="#12cfcf" stroke="#0b8585" stroke-width="0.6"/><circle cx="-8.1" cy="-10.8" r="1.9" fill="#14e6e6" stroke="#0a8a8a" stroke-width="0.45"/><circle cx="-4.86" cy="-9.6" r="1.9" fill="#14e6e6" stroke="#0a8a8a" stroke-width="0.45"/><circle cx="-1.62" cy="-10.8" r="1.9" fill="#14e6e6" stroke="#0a8a8a" stroke-width="0.45"/><circle cx="1.62" cy="-9.6" r="1.9" fill="#14e6e6" stroke="#0a8a8a" stroke-width="0.45"/><circle cx="4.86" cy="-10.8" r="1.9" fill="#14e6e6" stroke="#0a8a8a" stroke-width="0.45"/><circle cx="8.1" cy="-9.6" r="1.9" fill="#14e6e6" stroke="#0a8a8a" stroke-width="0.45"/><rect x="-10.2" y="7" width="20.4" height="5.2" rx="2.5" fill="#12cfcf" stroke="#0b8585" stroke-width="0.6"/><circle cx="-8.1" cy="9" r="1.9" fill="#14e6e6" stroke="#0a8a8a" stroke-width="0.45"/><circle cx="-4.86" cy="10.2" r="1.9" fill="#14e6e6" stroke="#0a8a8a" stroke-width="0.45"/><circle cx="-1.62" cy="9" r="1.9" fill="#14e6e6" stroke="#0a8a8a" stroke-width="0.45"/><circle cx="1.62" cy="10.2" r="1.9" fill="#14e6e6" stroke="#0a8a8a" stroke-width="0.45"/><circle cx="4.86" cy="9" r="1.9" fill="#14e6e6" stroke="#0a8a8a" stroke-width="0.45"/><circle cx="8.1" cy="10.2" r="1.9" fill="#14e6e6" stroke="#0a8a8a" stroke-width="0.45"/></g>
<g transform="translate(381.3,91.7) rotate(38)"><rect x="-12.7" y="-8.5" width="25.4" height="17" rx="6" fill="url(#speck)" stroke="#9a9a9a" stroke-width="0.6"/><rect x="-10.2" y="-12.8" width="20.4" height="5.2" rx="2.5" fill="#12cfcf" stroke="#0b8585" stroke-width="0.6"/><circle cx="-8.1" cy="-10.8" r="1.9" fill="#14e6e6" stroke="#0a8a8a" stroke-width="0.45"/><circle cx="-4.86" cy="-9.6" r="1.9" fill="#14e6e6" stroke="#0a8a8a" stroke-width="0.45"/><circle cx="-1.62" cy="-10.8" r="1.9" fill="#14e6e6" stroke="#0a8a8a" stroke-width="0.45"/><circle cx="1.62" cy="-9.6" r="1.9" fill="#14e6e6" stroke="#0a8a8a" stroke-width="0.45"/><circle cx="4.86" cy="-10.8" r="1.9" fill="#14e6e6" stroke="#0a8a8a" stroke-width="0.45"/><circle cx="8.1" cy="-9.6" r="1.9" fill="#14e6e6" stroke="#0a8a8a" stroke-width="0.45"/><rect x="-10.2" y="7" width="20.4" height="5.2" rx="2.5" fill="#12cfcf" stroke="#0b8585" stroke-width="0.6"/><circle cx="-8.1" cy="9" r="1.9" fill="#14e6e6" stroke="#0a8a8a" stroke-width="0.45"/><circle cx="-4.86" cy="10.2" r="1.9" fill="#14e6e6" stroke="#0a8a8a" stroke-width="0.45"/><circle cx="-1.62" cy="9" r="1.9" fill="#14e6e6" stroke="#0a8a8a" stroke-width="0.45"/><circle cx="1.62" cy="10.2" r="1.9" fill="#14e6e6" stroke="#0a8a8a" stroke-width="0.45"/><circle cx="4.86" cy="9" r="1.9" fill="#14e6e6" stroke="#0a8a8a" stroke-width="0.45"/><circle cx="8.1" cy="10.2" r="1.9" fill="#14e6e6" stroke="#0a8a8a" stroke-width="0.45"/></g>
<g transform="translate(434,94.3) rotate(-77)"><rect x="-12.7" y="-8.5" width="25.4" height="17" rx="6" fill="url(#speck)" stroke="#9a9a9a" stroke-width="0.6"/><rect x="-10.2" y="-12.8" width="20.4" height="5.2" rx="2.5" fill="#12cfcf" stroke="#0b8585" stroke-width="0.6"/><circle cx="-8.1" cy="-10.8" r="1.9" fill="#14e6e6" stroke="#0a8a8a" stroke-width="0.45"/><circle cx="-4.86" cy="-9.6" r="1.9" fill="#14e6e6" stroke="#0a8a8a" stroke-width="0.45"/><circle cx="-1.62" cy="-10.8" r="1.9" fill="#14e6e6" stroke="#0a8a8a" stroke-width="0.45"/><circle cx="1.62" cy="-9.6" r="1.9" fill="#14e6e6" stroke="#0a8a8a" stroke-width="0.45"/><circle cx="4.86" cy="-10.8" r="1.9" fill="#14e6e6" stroke="#0a8a8a" stroke-width="0.45"/><circle cx="8.1" cy="-9.6" r="1.9" fill="#14e6e6" stroke="#0a8a8a" stroke-width="0.45"/><rect x="-10.2" y="7" width="20.4" height="5.2" rx="2.5" fill="#12cfcf" stroke="#0b8585" stroke-width="0.6"/><circle cx="-8.1" cy="9" r="1.9" fill="#14e6e6" stroke="#0a8a8a" stroke-width="0.45"/><circle cx="-4.86" cy="10.2" r="1.9" fill="#14e6e6" stroke="#0a8a8a" stroke-width="0.45"/><circle cx="-1.62" cy="9" r="1.9" fill="#14e6e6" stroke="#0a8a8a" stroke-width="0.45"/><circle cx="1.62" cy="10.2" r="1.9" fill="#14e6e6" stroke="#0a8a8a" stroke-width="0.45"/><circle cx="4.86" cy="9" r="1.9" fill="#14e6e6" stroke="#0a8a8a" stroke-width="0.45"/><circle cx="8.1" cy="10.2" r="1.9" fill="#14e6e6" stroke="#0a8a8a" stroke-width="0.45"/></g>
<line x1="459.3" y1="121.3" x2="513" y2="121.3" stroke="#2a2a2a" stroke-width="1.7" />
<polygon points="517.3,121.3 512.1,118.7 512.1,123.9" fill="#2a2a2a" stroke="#2a2a2a" stroke-width="0.5" />
<ellipse cx="585.6" cy="197.8" rx="63.6" ry="6" fill="#fff" stroke="#8a8a8a" stroke-width="1.3"/>
<line x1="522" y1="44.3" x2="522" y2="197.8" stroke="#8a8a8a" stroke-width="1.3" />
<line x1="649.2" y1="44.3" x2="649.2" y2="197.8" stroke="#8a8a8a" stroke-width="1.3" />
<ellipse cx="585.6" cy="44.3" rx="63.6" ry="6" fill="none" stroke="#8a8a8a" stroke-width="1.3"/>
<rect x="602.7" y="109.7" width="6" height="6" fill="#fff" stroke="#8a8a8a" stroke-width="1.1" transform="rotate(10 605.7 112.7)"/>
<rect x="531.5" y="121" width="6" height="6" fill="#fff" stroke="#8a8a8a" stroke-width="1.1" transform="rotate(40 534.5 124)"/>
<rect x="631.2" y="123.7" width="6" height="6" fill="#fff" stroke="#8a8a8a" stroke-width="1.1" transform="rotate(20 634.2 126.7)"/>
<rect x="630.2" y="178" width="6" height="6" fill="#fff" stroke="#8a8a8a" stroke-width="1.1" transform="rotate(20 633.2 181)"/>
<rect x="570" y="191.5" width="6" height="6" fill="#fff" stroke="#8a8a8a" stroke-width="1.1" transform="rotate(45 573 194.5)"/>
<circle cx="578.4" cy="122.8" r="3.2" fill="#fff" stroke="#8a8a8a" stroke-width="1.1"/>
<circle cx="617.7" cy="141.2" r="3.2" fill="#fff" stroke="#8a8a8a" stroke-width="1.1"/>
<circle cx="564.5" cy="153.5" r="3.2" fill="#fff" stroke="#8a8a8a" stroke-width="1.1"/>
<circle cx="537.5" cy="181.3" r="3.2" fill="#fff" stroke="#8a8a8a" stroke-width="1.1"/>
<circle cx="603" cy="189" r="3.2" fill="#fff" stroke="#8a8a8a" stroke-width="1.1"/>
<polygon points="557.7,136.2 556.34,134.08 553.9,133.44 555.49,131.48 555.35,128.96 557.7,129.88 560.05,128.96 559.91,131.48 561.5,133.44 559.06,134.08" fill="#d2ce00" stroke="#8c8a00" stroke-width="1.1" stroke-linejoin="round"/>
<polygon points="595.2,140.7 593.84,138.58 591.4,137.94 592.99,135.98 592.85,133.46 595.2,134.38 597.55,133.46 597.41,135.98 599,137.94 596.56,138.58" fill="#d2ce00" stroke="#8c8a00" stroke-width="1.1" stroke-linejoin="round"/>
<polygon points="538.5,162.5 537.14,160.38 534.7,159.74 536.29,157.78 536.15,155.26 538.5,156.18 540.85,155.26 540.71,157.78 542.3,159.74 539.86,160.38" fill="#d2ce00" stroke="#8c8a00" stroke-width="1.1" stroke-linejoin="round"/>
<polygon points="636.5,162.5 635.14,160.38 632.7,159.74 634.29,157.78 634.15,155.26 636.5,156.18 638.85,155.26 638.71,157.78 640.3,159.74 637.86,160.38" fill="#d2ce00" stroke="#8c8a00" stroke-width="1.1" stroke-linejoin="round"/>
<polygon points="564,176.7 562.64,174.58 560.2,173.94 561.79,171.98 561.65,169.46 564,170.38 566.35,169.46 566.21,171.98 567.8,173.94 565.36,174.58" fill="#d2ce00" stroke="#8c8a00" stroke-width="1.1" stroke-linejoin="round"/>
<polygon points="616.2,172.7 614.84,170.58 612.4,169.94 613.99,167.98 613.85,165.46 616.2,166.38 618.55,165.46 618.41,167.98 620,169.94 617.56,170.58" fill="#d2ce00" stroke="#8c8a00" stroke-width="1.1" stroke-linejoin="round"/>
<polygon points="588.4,162.7 594.55,159.15 594.55,166.25" fill="#e23be2" stroke="#a010a0" stroke-width="0.9" stroke-linejoin="round"/>
<ellipse cx="585.6" cy="105.3" rx="63.6" ry="5.8" fill="#e4e4e4" stroke="#8a8a8a" stroke-width="1.3"/>
<polygon points="567.1,57.7 560.95,61.25 560.95,54.15" fill="#e23be2" stroke="#a010a0" stroke-width="0.9" stroke-linejoin="round"/>
<polygon points="615.35,61.4 619.91,55.96 622.34,62.64" fill="#e23be2" stroke="#a010a0" stroke-width="0.9" stroke-linejoin="round"/>
<polygon points="531.8,78 525.65,81.55 525.65,74.45" fill="#e23be2" stroke="#a010a0" stroke-width="0.9" stroke-linejoin="round"/>
<polygon points="588.5,79.9 592.05,86.05 584.95,86.05" fill="#e23be2" stroke="#a010a0" stroke-width="0.9" stroke-linejoin="round"/>
<polygon points="536,104.6 532.45,98.45 539.55,98.45" fill="#e23be2" stroke="#a010a0" stroke-width="0.9" stroke-linejoin="round"/>
<polygon points="605.7,99.4 609.25,105.55 602.15,105.55" fill="#e23be2" stroke="#a010a0" stroke-width="0.9" stroke-linejoin="round"/>
<circle cx="570.2" cy="71.2" r="3.2" fill="#fff" stroke="#8a8a8a" stroke-width="1.1"/>
<circle cx="643.2" cy="64.5" r="3.2" fill="#fff" stroke="#8a8a8a" stroke-width="1.1"/>
<circle cx="529.7" cy="90" r="3.2" fill="#fff" stroke="#8a8a8a" stroke-width="1.1"/>
<circle cx="617" cy="101.7" r="3.2" fill="#fff" stroke="#8a8a8a" stroke-width="1.1"/>
<circle cx="635" cy="104" r="3.2" fill="#fff" stroke="#8a8a8a" stroke-width="1.1"/>
<rect x="629" y="52.2" width="6" height="6" fill="#fff" stroke="#8a8a8a" stroke-width="1.1" transform="rotate(20 632 55.2)"/>
<rect x="546.5" y="89.2" width="6" height="6" fill="#fff" stroke="#8a8a8a" stroke-width="1.1" transform="rotate(35 549.5 92.2)"/>
<rect x="597.2" y="90" width="6" height="6" fill="#fff" stroke="#8a8a8a" stroke-width="1.1" transform="rotate(20 600.2 93)"/>
<rect x="551" y="102" width="6" height="6" fill="#fff" stroke="#8a8a8a" stroke-width="1.1" transform="rotate(15 554 105)"/>
<polygon points="610.2,90.7 608.84,88.58 606.4,87.94 607.99,85.98 607.85,83.46 610.2,84.38 612.55,83.46 612.41,85.98 614,87.94 611.56,88.58" fill="#d2ce00" stroke="#8c8a00" stroke-width="1.1" stroke-linejoin="round"/>
<g transform="translate(545,70.5) rotate(-10)"><rect x="-12.7" y="-8.5" width="25.4" height="17" rx="6" fill="url(#speck)" stroke="#9a9a9a" stroke-width="0.6"/><rect x="-10.2" y="-12.8" width="20.4" height="5.2" rx="2.5" fill="#12cfcf" stroke="#0b8585" stroke-width="0.6"/><circle cx="-8.1" cy="-10.8" r="1.9" fill="#14e6e6" stroke="#0a8a8a" stroke-width="0.45"/><circle cx="-4.86" cy="-9.6" r="1.9" fill="#14e6e6" stroke="#0a8a8a" stroke-width="0.45"/><circle cx="-1.62" cy="-10.8" r="1.9" fill="#14e6e6" stroke="#0a8a8a" stroke-width="0.45"/><circle cx="1.62" cy="-9.6" r="1.9" fill="#14e6e6" stroke="#0a8a8a" stroke-width="0.45"/><circle cx="4.86" cy="-10.8" r="1.9" fill="#14e6e6" stroke="#0a8a8a" stroke-width="0.45"/><circle cx="8.1" cy="-9.6" r="1.9" fill="#14e6e6" stroke="#0a8a8a" stroke-width="0.45"/><rect x="-10.2" y="7" width="20.4" height="5.2" rx="2.5" fill="#12cfcf" stroke="#0b8585" stroke-width="0.6"/><circle cx="-8.1" cy="9" r="1.9" fill="#14e6e6" stroke="#0a8a8a" stroke-width="0.45"/><circle cx="-4.86" cy="10.2" r="1.9" fill="#14e6e6" stroke="#0a8a8a" stroke-width="0.45"/><circle cx="-1.62" cy="9" r="1.9" fill="#14e6e6" stroke="#0a8a8a" stroke-width="0.45"/><circle cx="1.62" cy="10.2" r="1.9" fill="#14e6e6" stroke="#0a8a8a" stroke-width="0.45"/><circle cx="4.86" cy="9" r="1.9" fill="#14e6e6" stroke="#0a8a8a" stroke-width="0.45"/><circle cx="8.1" cy="10.2" r="1.9" fill="#14e6e6" stroke="#0a8a8a" stroke-width="0.45"/><path d="M-6,-12.4 l3.5,-2.6 l3.2,2.6 z" fill="#e23be2" stroke="#a010a0" stroke-width="0.5"/></g>
<g transform="translate(598.2,67.5) rotate(-75)"><rect x="-12.7" y="-8.5" width="25.4" height="17" rx="6" fill="url(#speck)" stroke="#9a9a9a" stroke-width="0.6"/><rect x="-10.2" y="-12.8" width="20.4" height="5.2" rx="2.5" fill="#12cfcf" stroke="#0b8585" stroke-width="0.6"/><circle cx="-8.1" cy="-10.8" r="1.9" fill="#14e6e6" stroke="#0a8a8a" stroke-width="0.45"/><circle cx="-4.86" cy="-9.6" r="1.9" fill="#14e6e6" stroke="#0a8a8a" stroke-width="0.45"/><circle cx="-1.62" cy="-10.8" r="1.9" fill="#14e6e6" stroke="#0a8a8a" stroke-width="0.45"/><circle cx="1.62" cy="-9.6" r="1.9" fill="#14e6e6" stroke="#0a8a8a" stroke-width="0.45"/><circle cx="4.86" cy="-10.8" r="1.9" fill="#14e6e6" stroke="#0a8a8a" stroke-width="0.45"/><circle cx="8.1" cy="-9.6" r="1.9" fill="#14e6e6" stroke="#0a8a8a" stroke-width="0.45"/><rect x="-10.2" y="7" width="20.4" height="5.2" rx="2.5" fill="#12cfcf" stroke="#0b8585" stroke-width="0.6"/><circle cx="-8.1" cy="9" r="1.9" fill="#14e6e6" stroke="#0a8a8a" stroke-width="0.45"/><circle cx="-4.86" cy="10.2" r="1.9" fill="#14e6e6" stroke="#0a8a8a" stroke-width="0.45"/><circle cx="-1.62" cy="9" r="1.9" fill="#14e6e6" stroke="#0a8a8a" stroke-width="0.45"/><circle cx="1.62" cy="10.2" r="1.9" fill="#14e6e6" stroke="#0a8a8a" stroke-width="0.45"/><circle cx="4.86" cy="9" r="1.9" fill="#14e6e6" stroke="#0a8a8a" stroke-width="0.45"/><circle cx="8.1" cy="10.2" r="1.9" fill="#14e6e6" stroke="#0a8a8a" stroke-width="0.45"/><path d="M-6,-12.4 l3.5,-2.6 l3.2,2.6 z" fill="#e23be2" stroke="#a010a0" stroke-width="0.5"/></g>
<g transform="translate(575.7,94.5) rotate(35)"><rect x="-12.7" y="-8.5" width="25.4" height="17" rx="6" fill="url(#speck)" stroke="#9a9a9a" stroke-width="0.6"/><rect x="-10.2" y="-12.8" width="20.4" height="5.2" rx="2.5" fill="#12cfcf" stroke="#0b8585" stroke-width="0.6"/><circle cx="-8.1" cy="-10.8" r="1.9" fill="#14e6e6" stroke="#0a8a8a" stroke-width="0.45"/><circle cx="-4.86" cy="-9.6" r="1.9" fill="#14e6e6" stroke="#0a8a8a" stroke-width="0.45"/><circle cx="-1.62" cy="-10.8" r="1.9" fill="#14e6e6" stroke="#0a8a8a" stroke-width="0.45"/><circle cx="1.62" cy="-9.6" r="1.9" fill="#14e6e6" stroke="#0a8a8a" stroke-width="0.45"/><circle cx="4.86" cy="-10.8" r="1.9" fill="#14e6e6" stroke="#0a8a8a" stroke-width="0.45"/><circle cx="8.1" cy="-9.6" r="1.9" fill="#14e6e6" stroke="#0a8a8a" stroke-width="0.45"/><rect x="-10.2" y="7" width="20.4" height="5.2" rx="2.5" fill="#12cfcf" stroke="#0b8585" stroke-width="0.6"/><circle cx="-8.1" cy="9" r="1.9" fill="#14e6e6" stroke="#0a8a8a" stroke-width="0.45"/><circle cx="-4.86" cy="10.2" r="1.9" fill="#14e6e6" stroke="#0a8a8a" stroke-width="0.45"/><circle cx="-1.62" cy="9" r="1.9" fill="#14e6e6" stroke="#0a8a8a" stroke-width="0.45"/><circle cx="1.62" cy="10.2" r="1.9" fill="#14e6e6" stroke="#0a8a8a" stroke-width="0.45"/><circle cx="4.86" cy="9" r="1.9" fill="#14e6e6" stroke="#0a8a8a" stroke-width="0.45"/><circle cx="8.1" cy="10.2" r="1.9" fill="#14e6e6" stroke="#0a8a8a" stroke-width="0.45"/></g>
<g transform="translate(632.7,85.5) rotate(0)"><rect x="-12.7" y="-8.5" width="25.4" height="17" rx="6" fill="url(#speck)" stroke="#9a9a9a" stroke-width="0.6"/><rect x="-10.2" y="-12.8" width="20.4" height="5.2" rx="2.5" fill="#12cfcf" stroke="#0b8585" stroke-width="0.6"/><circle cx="-8.1" cy="-10.8" r="1.9" fill="#14e6e6" stroke="#0a8a8a" stroke-width="0.45"/><circle cx="-4.86" cy="-9.6" r="1.9" fill="#14e6e6" stroke="#0a8a8a" stroke-width="0.45"/><circle cx="-1.62" cy="-10.8" r="1.9" fill="#14e6e6" stroke="#0a8a8a" stroke-width="0.45"/><circle cx="1.62" cy="-9.6" r="1.9" fill="#14e6e6" stroke="#0a8a8a" stroke-width="0.45"/><circle cx="4.86" cy="-10.8" r="1.9" fill="#14e6e6" stroke="#0a8a8a" stroke-width="0.45"/><circle cx="8.1" cy="-9.6" r="1.9" fill="#14e6e6" stroke="#0a8a8a" stroke-width="0.45"/><rect x="-10.2" y="7" width="20.4" height="5.2" rx="2.5" fill="#12cfcf" stroke="#0b8585" stroke-width="0.6"/><circle cx="-8.1" cy="9" r="1.9" fill="#14e6e6" stroke="#0a8a8a" stroke-width="0.45"/><circle cx="-4.86" cy="10.2" r="1.9" fill="#14e6e6" stroke="#0a8a8a" stroke-width="0.45"/><circle cx="-1.62" cy="9" r="1.9" fill="#14e6e6" stroke="#0a8a8a" stroke-width="0.45"/><circle cx="1.62" cy="10.2" r="1.9" fill="#14e6e6" stroke="#0a8a8a" stroke-width="0.45"/><circle cx="4.86" cy="9" r="1.9" fill="#14e6e6" stroke="#0a8a8a" stroke-width="0.45"/><circle cx="8.1" cy="10.2" r="1.9" fill="#14e6e6" stroke="#0a8a8a" stroke-width="0.45"/><path d="M-6,-12.4 l3.5,-2.6 l3.2,2.6 z" fill="#e23be2" stroke="#a010a0" stroke-width="0.5"/></g>
<line x1="653" y1="76.5" x2="670.5" y2="76.5" stroke="#2a2a2a" stroke-width="1.7" />
<line x1="653" y1="165.5" x2="670.5" y2="165.5" stroke="#2a2a2a" stroke-width="1.7" />
<line x1="670.5" y1="75.7" x2="670.5" y2="368.6" stroke="#2a2a2a" stroke-width="1.7" />
<line x1="670.5" y1="278.6" x2="658" y2="278.6" stroke="#2a2a2a" stroke-width="1.7" />
<polygon points="654.4,278.6 659.6,276 659.6,281.2" fill="#2a2a2a" stroke="#2a2a2a" stroke-width="0.5" />
<line x1="671.3" y1="367.8" x2="658" y2="367.8" stroke="#2a2a2a" stroke-width="1.7" />
<polygon points="654.4,367.8 659.6,365.2 659.6,370.4" fill="#2a2a2a" stroke="#2a2a2a" stroke-width="0.5" />
<ellipse cx="585.75" cy="308.7" rx="63.55" ry="6" fill="#fff" stroke="#8a8a8a" stroke-width="1.3"/>
<line x1="522.2" y1="246.4" x2="522.2" y2="308.7" stroke="#8a8a8a" stroke-width="1.3" />
<line x1="649.3" y1="246.4" x2="649.3" y2="308.7" stroke="#8a8a8a" stroke-width="1.3" />
<ellipse cx="585.75" cy="246.4" rx="63.55" ry="6" fill="none" stroke="#8a8a8a" stroke-width="1.3"/>
<ellipse cx="585.5" cy="308.3" rx="56.5" ry="4.3" fill="#1ab8b0" stroke="#10948e" stroke-width="0.8"/>
<ellipse cx="532.48" cy="308.49" rx="2.6" ry="1.3" fill="#22d2cc" stroke="#0a7f7a" stroke-width="0.5"/>
<ellipse cx="536.94" cy="308.76" rx="2.6" ry="1.3" fill="#22d2cc" stroke="#0a7f7a" stroke-width="0.5"/>
<ellipse cx="541.65" cy="306.39" rx="2.6" ry="1.3" fill="#22d2cc" stroke="#0a7f7a" stroke-width="0.5"/>
<ellipse cx="544.63" cy="309.78" rx="2.6" ry="1.3" fill="#22d2cc" stroke="#0a7f7a" stroke-width="0.5"/>
<ellipse cx="549.32" cy="307.13" rx="2.6" ry="1.3" fill="#22d2cc" stroke="#0a7f7a" stroke-width="0.5"/>
<ellipse cx="554.99" cy="308.17" rx="2.6" ry="1.3" fill="#22d2cc" stroke="#0a7f7a" stroke-width="0.5"/>
<ellipse cx="558.87" cy="308.2" rx="2.6" ry="1.3" fill="#22d2cc" stroke="#0a7f7a" stroke-width="0.5"/>
<ellipse cx="562.68" cy="306.76" rx="2.6" ry="1.3" fill="#22d2cc" stroke="#0a7f7a" stroke-width="0.5"/>
<ellipse cx="566.87" cy="309.92" rx="2.6" ry="1.3" fill="#22d2cc" stroke="#0a7f7a" stroke-width="0.5"/>
<ellipse cx="570.85" cy="309.36" rx="2.6" ry="1.3" fill="#22d2cc" stroke="#0a7f7a" stroke-width="0.5"/>
<ellipse cx="575.34" cy="306.38" rx="2.6" ry="1.3" fill="#22d2cc" stroke="#0a7f7a" stroke-width="0.5"/>
<ellipse cx="579.72" cy="308.7" rx="2.6" ry="1.3" fill="#22d2cc" stroke="#0a7f7a" stroke-width="0.5"/>
<ellipse cx="583" cy="306.24" rx="2.6" ry="1.3" fill="#22d2cc" stroke="#0a7f7a" stroke-width="0.5"/>
<ellipse cx="588.33" cy="308.18" rx="2.6" ry="1.3" fill="#22d2cc" stroke="#0a7f7a" stroke-width="0.5"/>
<ellipse cx="592.24" cy="309.97" rx="2.6" ry="1.3" fill="#22d2cc" stroke="#0a7f7a" stroke-width="0.5"/>
<ellipse cx="596.43" cy="310.15" rx="2.6" ry="1.3" fill="#22d2cc" stroke="#0a7f7a" stroke-width="0.5"/>
<ellipse cx="599.99" cy="309.62" rx="2.6" ry="1.3" fill="#22d2cc" stroke="#0a7f7a" stroke-width="0.5"/>
<ellipse cx="604.29" cy="310.22" rx="2.6" ry="1.3" fill="#22d2cc" stroke="#0a7f7a" stroke-width="0.5"/>
<ellipse cx="609.36" cy="306.53" rx="2.6" ry="1.3" fill="#22d2cc" stroke="#0a7f7a" stroke-width="0.5"/>
<ellipse cx="612.07" cy="307.05" rx="2.6" ry="1.3" fill="#22d2cc" stroke="#0a7f7a" stroke-width="0.5"/>
<ellipse cx="617.93" cy="308.02" rx="2.6" ry="1.3" fill="#22d2cc" stroke="#0a7f7a" stroke-width="0.5"/>
<ellipse cx="621.45" cy="307.42" rx="2.6" ry="1.3" fill="#22d2cc" stroke="#0a7f7a" stroke-width="0.5"/>
<ellipse cx="625.41" cy="307.8" rx="2.6" ry="1.3" fill="#22d2cc" stroke="#0a7f7a" stroke-width="0.5"/>
<ellipse cx="629.3" cy="308.67" rx="2.6" ry="1.3" fill="#22d2cc" stroke="#0a7f7a" stroke-width="0.5"/>
<ellipse cx="633.97" cy="310.08" rx="2.6" ry="1.3" fill="#22d2cc" stroke="#0a7f7a" stroke-width="0.5"/>
<ellipse cx="638.36" cy="310.19" rx="2.6" ry="1.3" fill="#22d2cc" stroke="#0a7f7a" stroke-width="0.5"/>
<polygon points="537.8,260.4 531.65,263.95 531.65,256.85" fill="#e23be2" stroke="#a010a0" stroke-width="0.9" stroke-linejoin="round"/>
<polygon points="589.6,262.4 583.45,265.95 583.45,258.85" fill="#e23be2" stroke="#a010a0" stroke-width="0.9" stroke-linejoin="round"/>
<polygon points="615.65,263.4 620.21,257.96 622.64,264.64" fill="#e23be2" stroke="#a010a0" stroke-width="0.9" stroke-linejoin="round"/>
<polygon points="576.6,275.9 570.45,279.45 570.45,272.35" fill="#e23be2" stroke="#a010a0" stroke-width="0.9" stroke-linejoin="round"/>
<polygon points="538.54,285.11 531.86,287.54 533.1,280.55" fill="#e23be2" stroke="#a010a0" stroke-width="0.9" stroke-linejoin="round"/>
<polygon points="552.7,291.6 556.25,297.75 549.15,297.75" fill="#e23be2" stroke="#a010a0" stroke-width="0.9" stroke-linejoin="round"/>
<polygon points="604.1,292.4 597.95,295.95 597.95,288.85" fill="#e23be2" stroke="#a010a0" stroke-width="0.9" stroke-linejoin="round"/>
<polygon points="635.4,302.8 631.85,296.65 638.95,296.65" fill="#e23be2" stroke="#a010a0" stroke-width="0.9" stroke-linejoin="round"/>
<circle cx="561" cy="259.6" r="3.2" fill="#fff" stroke="#8a8a8a" stroke-width="1.1"/>
<circle cx="600.2" cy="258.5" r="3.2" fill="#fff" stroke="#8a8a8a" stroke-width="1.1"/>
<circle cx="633.8" cy="280.6" r="3.2" fill="#fff" stroke="#8a8a8a" stroke-width="1.1"/>
<circle cx="530.6" cy="297.6" r="3.2" fill="#fff" stroke="#8a8a8a" stroke-width="1.1"/>
<circle cx="580.4" cy="293.9" r="3.2" fill="#fff" stroke="#8a8a8a" stroke-width="1.1"/>
<rect x="544.2" y="268.8" width="6" height="6" fill="#fff" stroke="#8a8a8a" stroke-width="1.1" transform="rotate(30 547.2 271.8)"/>
<rect x="634.4" y="262.4" width="6" height="6" fill="#fff" stroke="#8a8a8a" stroke-width="1.1" transform="rotate(15 637.4 265.4)"/>
<rect x="557.6" y="280" width="6" height="6" fill="#fff" stroke="#8a8a8a" stroke-width="1.1" transform="rotate(15 560.6 283)"/>
<rect x="591.2" y="274.8" width="6" height="6" fill="#fff" stroke="#8a8a8a" stroke-width="1.1" transform="rotate(10 594.2 277.8)"/>
<rect x="615" y="292.5" width="6" height="6" fill="#fff" stroke="#8a8a8a" stroke-width="1.1" transform="rotate(20 618 295.5)"/>
<polygon points="614,281.5 612.64,279.38 610.2,278.74 611.79,276.78 611.65,274.26 614,275.18 616.35,274.26 616.21,276.78 617.8,278.74 615.36,279.38" fill="#d2ce00" stroke="#8c8a00" stroke-width="1.1" stroke-linejoin="round"/>
<ellipse cx="585.55" cy="399.7" rx="63.75" ry="6" fill="#fff" stroke="#8a8a8a" stroke-width="1.3"/>
<line x1="521.8" y1="337.4" x2="521.8" y2="399.7" stroke="#8a8a8a" stroke-width="1.3" />
<line x1="649.3" y1="337.4" x2="649.3" y2="399.7" stroke="#8a8a8a" stroke-width="1.3" />
<ellipse cx="585.55" cy="337.4" rx="63.75" ry="6" fill="none" stroke="#8a8a8a" stroke-width="1.3"/>
<rect x="531" y="348" width="6" height="6" fill="#fff" stroke="#8a8a8a" stroke-width="1.1" transform="rotate(30 534 351)"/>
<rect x="604.7" y="350.8" width="6" height="6" fill="#fff" stroke="#8a8a8a" stroke-width="1.1" transform="rotate(10 607.7 353.8)"/>
<rect x="630.8" y="359.9" width="6" height="6" fill="#fff" stroke="#8a8a8a" stroke-width="1.1" transform="rotate(20 633.8 362.9)"/>
<rect x="597.2" y="371" width="6" height="6" fill="#fff" stroke="#8a8a8a" stroke-width="1.1" transform="rotate(20 600.2 374)"/>
<rect x="570.1" y="396" width="6" height="6" fill="#fff" stroke="#8a8a8a" stroke-width="1.1" transform="rotate(45 573.1 399)"/>
<polygon points="560.2,359 558.84,356.88 556.4,356.24 557.99,354.28 557.85,351.76 560.2,352.68 562.55,351.76 562.41,354.28 564,356.24 561.56,356.88" fill="#d2ce00" stroke="#8c8a00" stroke-width="1.1" stroke-linejoin="round"/>
<polygon points="637.4,354.7 636.04,352.58 633.6,351.94 635.19,349.98 635.05,347.46 637.4,348.38 639.75,347.46 639.61,349.98 641.2,351.94 638.76,352.58" fill="#d2ce00" stroke="#8c8a00" stroke-width="1.1" stroke-linejoin="round"/>
<polygon points="543.5,373.2 542.14,371.08 539.7,370.44 541.29,368.48 541.15,365.96 543.5,366.88 545.85,365.96 545.71,368.48 547.3,370.44 544.86,371.08" fill="#d2ce00" stroke="#8c8a00" stroke-width="1.1" stroke-linejoin="round"/>
<polygon points="620.6,376 619.24,373.88 616.8,373.24 618.39,371.28 618.25,368.76 620.6,369.68 622.95,368.76 622.81,371.28 624.4,373.24 621.96,373.88" fill="#d2ce00" stroke="#8c8a00" stroke-width="1.1" stroke-linejoin="round"/>
<polygon points="554.6,398.5 553.24,396.38 550.8,395.74 552.39,393.78 552.25,391.26 554.6,392.18 556.95,391.26 556.81,393.78 558.4,395.74 555.96,396.38" fill="#d2ce00" stroke="#8c8a00" stroke-width="1.1" stroke-linejoin="round"/>
<polygon points="619.9,400.6 618.54,398.48 616.1,397.84 617.69,395.88 617.55,393.36 619.9,394.28 622.25,393.36 622.11,395.88 623.7,397.84 621.26,398.48" fill="#d2ce00" stroke="#8c8a00" stroke-width="1.1" stroke-linejoin="round"/>
<circle cx="586.8" cy="353.5" r="3.2" fill="#fff" stroke="#8a8a8a" stroke-width="1.1"/>
<circle cx="569.3" cy="380" r="3.2" fill="#fff" stroke="#8a8a8a" stroke-width="1.1"/>
<circle cx="537.7" cy="385.5" r="3.2" fill="#fff" stroke="#8a8a8a" stroke-width="1.1"/>
<circle cx="637.4" cy="383.9" r="3.2" fill="#fff" stroke="#8a8a8a" stroke-width="1.1"/>
<circle cx="602.9" cy="393.4" r="3.2" fill="#fff" stroke="#8a8a8a" stroke-width="1.1"/>
<polygon points="579.3,368.9 585.45,365.35 585.45,372.45" fill="#e23be2" stroke="#a010a0" stroke-width="0.9" stroke-linejoin="round"/>
<polyline points="517.1,280.6 506.6,280.6 506.6,314.9 473,314.9" fill="none" stroke="#2a2a2a" stroke-width="1.7" />
<polygon points="467.8,314.9 473,312.3 473,317.5" fill="#2a2a2a" stroke="#2a2a2a" stroke-width="0.5" />
<polyline points="517.4,368.6 506.6,368.6 506.6,334.8 473,334.8" fill="none" stroke="#2a2a2a" stroke-width="1.7" />
<polygon points="467.8,334.8 473,332.2 473,337.4" fill="#2a2a2a" stroke="#2a2a2a" stroke-width="0.5" />
<polygon points="318,361.5 369.5,376.5 369.5,384 321.5,369.5" fill="#a9abad" stroke="none" stroke-width="0" />
<path d="M399.7,306 Q399.7,302.3 404,302.3 L463.9,303.8 L463.9,355.8 L399.7,378.5 Z" fill="#b2b4b6" stroke="none" stroke-width="0" />
<line x1="399.7" y1="372.9" x2="463.9" y2="352.1" stroke="#c9cbcd" stroke-width="0.8" />
<path d="M399.7,308 Q399.7,302.3 405,302.3 L463.9,303.8" fill="none" stroke="#1b9593" stroke-width="2" />
<polygon points="380.1,238.4 405.7,234.2 405.7,298.6 380.1,298.6" fill="#e0e1e3" stroke="#c8c9cb" stroke-width="0.5" />
<polygon points="405.7,234.2 432.4,245.7 432.4,301 405.7,301" fill="#b1b3b5" stroke="none" stroke-width="0" />
<line x1="405.7" y1="234.2" x2="432.6" y2="245.8" stroke="#1b9593" stroke-width="1.7" />
<line x1="405.8" y1="234.5" x2="405.8" y2="298.8" stroke="#1b9593" stroke-width="1.5" />
<line x1="380.1" y1="298.6" x2="405.7" y2="298.6" stroke="#1b9593" stroke-width="1.5" />
<polygon points="313.4,299.2 399.7,299.2 399.7,302.6 313.4,302.6" fill="#e4e5e6" stroke="none" stroke-width="0" />
<rect x="313.4" y="300" width="27.6" height="62.5" fill="#e4e5e6" stroke="#bfc1c3" stroke-width="0.5"/>
<rect x="313.4" y="300" width="11.3" height="62.5" fill="#c6c8ca"/>
<rect x="313.6" y="313.5" width="10" height="4.5" rx="2" fill="#e8e9ea"/>
<rect x="327.7" y="311.3" width="9.5" height="14.8" fill="#5c5e60" stroke="#c2c4c6" stroke-width="1.2"/>
<line x1="324.7" y1="336.3" x2="341" y2="336.3" stroke="#b5b7b9" stroke-width="0.8" />
<rect x="339.4" y="283" width="9" height="17" rx="1.5" fill="#b9bbbd" stroke="#8d8f91" stroke-width="0.5"/>
<rect x="340.5" y="282" width="7" height="3.8" rx="1" fill="#6e7072"/>
<path d="M343.6,282.5 C341,272 338,266 334.5,267 C330,268 328.5,276 330.5,285 C332,292 334,297 335.6,299.6" fill="none" stroke="#5e6062" stroke-width="0.65" />
<path d="M345.5,282.5 C343,276 339,271.5 335,273 C331,275 331,283 333,290 C334,294 335,297 336.5,299.6" fill="none" stroke="#5e6062" stroke-width="0.65" />
<rect x="370.6" y="300" width="29.1" height="44" fill="#cacccd"/>
<rect x="370.6" y="300" width="29.1" height="9" fill="#e2e3e4"/>
<path d="M371.5,335 Q372,343.5 380,343.5 L390,343.5 Q398.5,343.5 399,335 L399,341 Q398,346 390,346 L380,346 Q372,346 371.5,341 Z" fill="#ececed" stroke="none" stroke-width="0" />
<path d="M340.8,304 Q340.8,300.3 345,300.3 L364,300.3 Q370.6,300.3 370.6,307 L370.6,345 L353.9,345 L353.9,366.1 L345,366.1 Q340.8,366.1 340.8,362 Z" fill="#1b9593" stroke="#0f6e6c" stroke-width="0.6" />
<path d="M341.2,304 Q341.2,300.6 345,300.6 L352,300.6 L352,366 L345,366 Q341.2,366 341.2,362 Z" fill="#168583" stroke="none" stroke-width="0" />
<rect x="347.3" y="303" width="3.7" height="28.5" fill="#0f6e6c"/>
<rect x="348.3" y="317" width="1.6" height="9.7" fill="#d8dcdc"/>
<path d="M357,310 Q361,314 359,322 L356,326 Q354,318 357,310 Z" fill="#137371" stroke="#0b5654" stroke-width="0.5" />
<circle cx="366" cy="317.8" r="2.3" fill="#eef4f4" />
<circle cx="366" cy="325" r="1.3" fill="#6a3030" />
<rect x="353.9" y="342.2" width="14.3" height="29.8" fill="#e4e5e6"/>
<path d="M368.8,343.4 L399.2,343.4 L399.2,378 Q399.2,386.3 390,386.3 L378,386.3 Q368.8,386.3 368.8,378 Z" fill="#1b9593" stroke="none" stroke-width="0" />
<path d="M371.2,348.2 L397.4,348.2 L397.4,377 Q397.4,384 390,384 L378.5,384 Q371.2,384 371.2,377 Z" fill="#d1d3d5" stroke="none" stroke-width="0" />
<rect x="374.2" y="349.4" width="22.6" height="21.4" rx="2" fill="#8c8e90"/>
<rect x="376" y="355.3" width="8.3" height="13.2" rx="2" fill="#f0eeeb"/>
<rect x="386" y="355.3" width="8.4" height="13.2" rx="2" fill="#f0eeeb"/>
<ellipse cx="385.5" cy="375" rx="10.8" ry="2.2" fill="#c4c6c8" stroke="#8e9092" stroke-width="0.6"/>
<line x1="310.8" y1="325" x2="278" y2="325" stroke="#2a2a2a" stroke-width="1.5" />
<polygon points="273,325 279,322.5 279,327.5" fill="#2a2a2a" stroke="#2a2a2a" stroke-width="0.5" />
<path d="M75.98,393.07 L76.88,392.74 L77.78,392.21 L78.68,391.36 L79.58,390.05 L80.48,388.1 L81.39,385.29 L82.29,381.37 L83.19,376.1 L84.09,369.24 L84.99,360.64 L85.89,350.25 L86.79,338.21 L87.69,324.83 L88.59,310.64 L89.5,296.37 L90.4,282.87 L91.3,271.1 L92.2,261.93 L93.1,256.1 L94,254.1 L94.9,256.1 L95.8,261.93 L96.7,271.1 L97.6,282.87 L98.5,296.37 L99.41,310.64 L100.31,324.83 L101.21,338.21 L102.11,350.25 L103.01,360.64 L103.91,369.24 L104.81,376.1 L105.71,381.37 L106.61,385.29 L107.52,388.1 L108.42,390.05 L109.32,391.36 L110.22,392.21 L111.12,392.74 L112.02,393.07 Z" fill="#ff66ff" stroke="none" stroke-width="0" />
<path d="M139.5,393.24 L140.35,393.05 L141.2,392.73 L142.05,392.23 L142.9,391.45 L143.75,390.29 L144.6,388.61 L145.45,386.28 L146.3,383.14 L147.15,379.05 L148,373.93 L148.85,367.75 L149.7,360.58 L150.55,352.61 L151.4,344.16 L152.25,335.67 L153.1,327.63 L153.95,320.62 L154.8,315.16 L155.65,311.69 L156.5,310.5 L157.35,311.69 L158.2,315.16 L159.05,320.62 L159.9,327.63 L160.75,335.67 L161.6,344.16 L162.45,352.61 L163.3,360.58 L164.15,367.75 L165,373.93 L165.85,379.05 L166.7,383.14 L167.55,386.28 L168.4,388.61 L169.25,390.29 L170.1,391.45 L170.95,392.23 L171.8,392.73 L172.65,393.05 L173.5,393.24 Z" fill="#c4c4c4" stroke="none" stroke-width="0" />
<path d="M201.8,393.41 L202.65,393.35 L203.5,393.24 L204.35,393.07 L205.2,392.81 L206.05,392.42 L206.9,391.85 L207.75,391.06 L208.6,390 L209.45,388.63 L210.3,386.9 L211.15,384.81 L212,382.39 L212.85,379.71 L213.7,376.86 L214.55,373.99 L215.4,371.28 L216.25,368.91 L217.1,367.07 L217.95,365.9 L218.8,365.5 L219.65,365.9 L220.5,367.07 L221.35,368.91 L222.2,371.28 L223.05,373.99 L223.9,376.86 L224.75,379.71 L225.6,382.39 L226.45,384.81 L227.3,386.9 L228.15,388.63 L229,390 L229.85,391.06 L230.7,391.85 L231.55,392.42 L232.4,392.81 L233.25,393.07 L234.1,393.24 L234.95,393.35 L235.8,393.41 Z" fill="#e2e200" stroke="none" stroke-width="0" />
<path d="M76.66,393.24 L77.53,393.05 L78.39,392.73 L79.26,392.22 L80.13,391.44 L80.99,390.27 L81.86,388.6 L82.73,386.25 L83.6,383.1 L84.46,379 L85.33,373.86 L86.2,367.66 L87.06,360.46 L87.93,352.47 L88.8,343.99 L89.66,335.46 L90.53,327.39 L91.4,320.36 L92.27,314.88 L93.13,311.4 L94,310.2 L94.87,311.4 L95.73,314.88 L96.6,320.36 L97.47,327.39 L98.33,335.46 L99.2,343.99 L100.07,352.47 L100.94,360.46 L101.8,367.66 L102.67,373.86 L103.54,379 L104.4,383.1 L105.27,386.25 L106.14,388.6 L107,390.27 L107.87,391.44 L108.74,392.22 L109.61,392.73 L110.47,393.05 L111.34,393.24" fill="none" stroke="#000" stroke-width="1.5" stroke-dasharray="3.2 2.2"/>
<path d="M139.16,393.24 L140.03,393.05 L140.89,392.73 L141.76,392.22 L142.63,391.44 L143.5,390.27 L144.36,388.6 L145.23,386.25 L146.1,383.1 L146.96,379 L147.83,373.86 L148.7,367.66 L149.56,360.46 L150.43,352.47 L151.3,343.99 L152.16,335.46 L153.03,327.39 L153.9,320.36 L154.77,314.88 L155.63,311.4 L156.5,310.2 L157.37,311.4 L158.23,314.88 L159.1,320.36 L159.97,327.39 L160.84,335.46 L161.7,343.99 L162.57,352.47 L163.44,360.46 L164.3,367.66 L165.17,373.86 L166.04,379 L166.9,383.1 L167.77,386.25 L168.64,388.6 L169.5,390.27 L170.37,391.44 L171.24,392.22 L172.11,392.73 L172.97,393.05 L173.84,393.24" fill="none" stroke="#000" stroke-width="1.5" stroke-dasharray="3.2 2.2"/>
<path d="M201.46,393.24 L202.33,393.05 L203.19,392.73 L204.06,392.22 L204.93,391.44 L205.8,390.27 L206.66,388.6 L207.53,386.25 L208.4,383.1 L209.26,379 L210.13,373.86 L211,367.66 L211.86,360.46 L212.73,352.47 L213.6,343.99 L214.47,335.46 L215.33,327.39 L216.2,320.36 L217.07,314.88 L217.93,311.4 L218.8,310.2 L219.67,311.4 L220.53,314.88 L221.4,320.36 L222.27,327.39 L223.14,335.46 L224,343.99 L224.87,352.47 L225.74,360.46 L226.6,367.66 L227.47,373.86 L228.34,379 L229.2,383.1 L230.07,386.25 L230.94,388.6 L231.81,390.27 L232.67,391.44 L233.54,392.22 L234.41,392.73 L235.27,393.05 L236.14,393.24" fill="none" stroke="#000" stroke-width="1.5" stroke-dasharray="3.2 2.2"/>
<line x1="48" y1="246.4" x2="48" y2="394.3" stroke="#000" stroke-width="1.6" />
<line x1="47.2" y1="393.5" x2="267.7" y2="393.5" stroke="#000" stroke-width="1.6" />
<text x="94" y="246.7" font-size="20.4" text-anchor="middle" font-weight="normal" fill="#000" >1</text>
<text x="155.6" y="302.9" font-size="20.4" text-anchor="middle" font-weight="normal" fill="#000" >2</text>
<text x="218" y="302.9" font-size="20.4" text-anchor="middle" font-weight="normal" fill="#000" >3</text>
<text transform="translate(40.1,382.6) rotate(-90)" font-size="20.2">Intensity (cps)</text>
<text x="158" y="413.1" font-size="20.4" text-anchor="middle" font-weight="normal" fill="#000" >m/z</text>
<rect x="224.2" y="247.1" width="7" height="4.7" fill="#ff66ff"/>
<rect x="231.2" y="247.1" width="7" height="4.7" fill="#c4c4c4"/>
<rect x="238.2" y="247.1" width="7" height="4.7" fill="#e2e200"/>
<line x1="224.2" y1="273.2" x2="245.1" y2="273.2" stroke="#000" stroke-width="1.8" stroke-dasharray="3.6 2.2"/>
<text x="251.5" y="256.7" font-size="20" text-anchor="start" font-weight="normal" fill="#000" >P</text>
<text x="264.9" y="263.4" font-size="12.5" text-anchor="start" font-weight="normal" fill="#000" >C</text>
<text x="250.6" y="280" font-size="20" text-anchor="start" font-weight="normal" fill="#000" >M</text>
<text x="267.3" y="287" font-size="12.5" text-anchor="start" font-weight="normal" fill="#000" >C</text>
<text x="721.5" y="19.2" font-size="26" text-anchor="start" font-weight="bold" fill="#000" >b.</text>
<text transform="translate(773.1,405) rotate(-90)" font-size="23.4">Normalized z-score log2(fold change)</text>
<text x="1018" y="457.8" font-size="23.5" text-anchor="middle" font-weight="normal" fill="#000" >Metabolite signal (1 - 331)</text>
<line x1="826.7" y1="32.5" x2="838.7" y2="32.5" stroke="#000" stroke-width="3" />
<text x="823.5" y="39.9" font-size="20.5" text-anchor="end" font-weight="normal" fill="#000" >&gt; 4</text>
<line x1="826.7" y1="121" x2="838.7" y2="121" stroke="#000" stroke-width="3" />
<text x="823.5" y="128.4" font-size="20.5" text-anchor="end" font-weight="normal" fill="#000" >2</text>
<line x1="826.7" y1="210.5" x2="838.7" y2="210.5" stroke="#000" stroke-width="3" />
<text x="823.5" y="217.9" font-size="20.5" text-anchor="end" font-weight="normal" fill="#000" >0</text>
<line x1="826.7" y1="300.2" x2="838.7" y2="300.2" stroke="#000" stroke-width="3" />
<text x="823.5" y="307.6" font-size="20.5" text-anchor="end" font-weight="normal" fill="#000" >-2</text>
<line x1="826.7" y1="388.9" x2="838.7" y2="388.9" stroke="#000" stroke-width="3" />
<text x="823.5" y="396.3" font-size="20.5" text-anchor="end" font-weight="normal" fill="#000" >&lt; -4</text>
<line x1="945.2" y1="389" x2="945.2" y2="401" stroke="#000" stroke-width="3" />
<text x="945.7" y="424" font-size="20.5" text-anchor="middle" font-weight="normal" fill="#000" >100</text>
<line x1="1051.5" y1="389" x2="1051.5" y2="401" stroke="#000" stroke-width="3" />
<text x="1052" y="424" font-size="20.5" text-anchor="middle" font-weight="normal" fill="#000" >200</text>
<line x1="1158.6" y1="389" x2="1158.6" y2="401" stroke="#000" stroke-width="3" />
<text x="1159.1" y="424" font-size="20.5" text-anchor="middle" font-weight="normal" fill="#000" >300</text>
<line x1="838.7" y1="210.5" x2="1196.5" y2="210.5" stroke="#000" stroke-width="2.8" />
<line x1="838.7" y1="199.2" x2="1196.5" y2="199.2" stroke="#000" stroke-width="2.9" stroke-dasharray="5.2 8.8" stroke-linecap="round"/>
<line x1="838.7" y1="221.7" x2="1196.5" y2="221.7" stroke="#000" stroke-width="2.9" stroke-dasharray="5.2 8.8" stroke-linecap="round"/>
<g fill="#000" fill-opacity="0.26"><circle cx="843.1" cy="118" r="4.1"/><circle cx="843.6" cy="134.9" r="4.1"/><circle cx="855.2" cy="163.3" r="4.1"/><circle cx="856.8" cy="170.7" r="4.1"/><circle cx="857.87" cy="172.98" r="4.2"/><circle cx="858.94" cy="175.24" r="4.2"/><circle cx="860" cy="177.51" r="4.2"/><circle cx="861.07" cy="179.77" r="4.2"/><circle cx="862.13" cy="180.99" r="4.2"/><circle cx="863.2" cy="181.48" r="4.2"/><circle cx="864.26" cy="181.97" r="4.2"/><circle cx="865.33" cy="182.46" r="4.2"/><circle cx="866.39" cy="182.94" r="4.2"/><circle cx="867.46" cy="183.43" r="4.2"/><circle cx="868.52" cy="183.92" r="4.2"/><circle cx="869.59" cy="184.41" r="4.2"/><circle cx="870.65" cy="184.79" r="4.2"/><circle cx="871.72" cy="185.09" r="4.2"/><circle cx="872.78" cy="185.39" r="4.2"/><circle cx="873.85" cy="185.7" r="4.2"/><circle cx="874.91" cy="186" r="4.2"/><circle cx="875.98" cy="186.31" r="4.2"/><circle cx="877.04" cy="186.61" r="4.2"/><circle cx="878.11" cy="186.92" r="4.2"/><circle cx="879.17" cy="187.22" r="4.2"/><circle cx="880.24" cy="187.52" r="4.2"/><circle cx="881.3" cy="187.73" r="4.2"/><circle cx="882.37" cy="187.91" r="4.2"/><circle cx="883.43" cy="188.09" r="4.2"/><circle cx="884.5" cy="188.27" r="4.2"/><circle cx="885.56" cy="188.45" r="4.2"/><circle cx="886.62" cy="188.62" r="4.2"/><circle cx="887.69" cy="188.8" r="4.2"/><circle cx="888.75" cy="188.98" r="4.2"/><circle cx="889.82" cy="189.16" r="4.2"/><circle cx="890.88" cy="189.34" r="4.2"/><circle cx="891.95" cy="189.52" r="4.2"/><circle cx="893.02" cy="189.69" r="4.2"/><circle cx="894.08" cy="189.87" r="4.2"/><circle cx="895.15" cy="190.05" r="4.2"/><circle cx="896.21" cy="190.23" r="4.2"/><circle cx="897.28" cy="190.41" r="4.2"/><circle cx="898.34" cy="190.59" r="4.2"/><circle cx="899.41" cy="190.76" r="4.2"/><circle cx="900.47" cy="190.94" r="4.2"/><circle cx="901.54" cy="191.12" r="4.2"/><circle cx="902.6" cy="191.3" r="4.2"/><circle cx="903.67" cy="191.48" r="4.2"/><circle cx="904.73" cy="191.65" r="4.2"/><circle cx="905.8" cy="191.86" r="4.2"/><circle cx="906.86" cy="192.07" r="4.2"/><circle cx="907.93" cy="192.28" r="4.2"/><circle cx="908.99" cy="192.49" r="4.2"/><circle cx="910.06" cy="192.7" r="4.2"/><circle cx="911.12" cy="192.92" r="4.2"/><circle cx="912.19" cy="193.13" r="4.2"/><circle cx="913.25" cy="193.34" r="4.2"/><circle cx="914.32" cy="193.55" r="4.2"/><circle cx="915.38" cy="193.76" r="4.2"/><circle cx="916.45" cy="193.97" r="4.2"/><circle cx="917.51" cy="194.18" r="4.2"/><circle cx="918.58" cy="194.4" r="4.2"/><circle cx="919.64" cy="194.6" r="4.2"/><circle cx="920.71" cy="194.69" r="4.2"/><circle cx="921.77" cy="194.77" r="4.2"/><circle cx="922.84" cy="194.86" r="4.2"/><circle cx="923.9" cy="194.94" r="4.2"/><circle cx="924.97" cy="195.02" r="4.2"/><circle cx="926.03" cy="195.11" r="4.2"/><circle cx="927.1" cy="195.19" r="4.2"/><circle cx="928.16" cy="195.28" r="4.2"/><circle cx="929.23" cy="195.36" r="4.2"/><circle cx="930.29" cy="195.44" r="4.2"/><circle cx="931.36" cy="195.53" r="4.2"/><circle cx="932.42" cy="195.61" r="4.2"/><circle cx="933.49" cy="195.7" r="4.2"/><circle cx="934.55" cy="195.78" r="4.2"/><circle cx="935.62" cy="195.86" r="4.2"/><circle cx="936.68" cy="195.95" r="4.2"/><circle cx="937.75" cy="196.03" r="4.2"/><circle cx="938.81" cy="196.12" r="4.2"/><circle cx="939.88" cy="196.2" r="4.2"/><circle cx="940.94" cy="196.28" r="4.2"/><circle cx="942" cy="196.37" r="4.2"/><circle cx="943.07" cy="196.45" r="4.2"/><circle cx="944.13" cy="196.54" r="4.2"/><circle cx="945.2" cy="196.62" r="4.2"/><circle cx="946.27" cy="196.71" r="4.2"/><circle cx="947.33" cy="196.79" r="4.2"/><circle cx="948.39" cy="196.87" r="4.2"/><circle cx="949.46" cy="196.96" r="4.2"/><circle cx="950.53" cy="197.05" r="4.2"/><circle cx="951.59" cy="197.16" r="4.2"/><circle cx="952.66" cy="197.27" r="4.2"/><circle cx="953.72" cy="197.38" r="4.2"/><circle cx="954.79" cy="197.49" r="4.2"/><circle cx="955.85" cy="197.6" r="4.2"/><circle cx="956.92" cy="197.71" r="4.2"/><circle cx="957.98" cy="197.81" r="4.2"/><circle cx="959.05" cy="197.92" r="4.2"/><circle cx="960.11" cy="198.03" r="4.2"/><circle cx="961.18" cy="198.14" r="4.2"/><circle cx="962.24" cy="198.25" r="4.2"/><circle cx="963.31" cy="198.36" r="4.2"/><circle cx="964.37" cy="198.47" r="4.2"/><circle cx="965.44" cy="198.57" r="4.2"/><circle cx="966.5" cy="198.68" r="4.2"/><circle cx="967.57" cy="198.79" r="4.2"/><circle cx="968.63" cy="198.9" r="4.2"/><circle cx="969.7" cy="199.01" r="4.2"/><circle cx="970.76" cy="199.12" r="4.2"/><circle cx="971.83" cy="199.23" r="4.2"/><circle cx="972.89" cy="199.33" r="4.2"/><circle cx="973.96" cy="199.44" r="4.2"/><circle cx="975.02" cy="199.55" r="4.2"/><circle cx="976.09" cy="199.66" r="4.2"/><circle cx="977.15" cy="199.77" r="4.2"/><circle cx="978.22" cy="199.88" r="4.2"/><circle cx="979.28" cy="199.99" r="4.2"/><circle cx="980.35" cy="200.1" r="4.2"/><circle cx="981.41" cy="200.2" r="4.2"/><circle cx="982.48" cy="200.31" r="4.2"/><circle cx="983.54" cy="200.42" r="4.2"/><circle cx="984.61" cy="200.53" r="4.2"/><circle cx="985.67" cy="200.64" r="4.2"/><circle cx="986.74" cy="200.75" r="4.2"/><circle cx="987.8" cy="200.86" r="4.2"/><circle cx="988.87" cy="200.96" r="4.2"/><circle cx="989.93" cy="201.07" r="4.2"/><circle cx="991" cy="201.18" r="4.2"/><circle cx="992.06" cy="201.29" r="4.2"/><circle cx="993.12" cy="201.4" r="4.2"/><circle cx="994.19" cy="201.51" r="4.2"/><circle cx="995.25" cy="201.62" r="4.2"/><circle cx="996.32" cy="201.72" r="4.2"/><circle cx="997.38" cy="201.83" r="4.2"/><circle cx="998.45" cy="201.94" r="4.2"/><circle cx="999.52" cy="202.05" r="4.2"/><circle cx="1000.58" cy="202.14" r="4.2"/><circle cx="1001.64" cy="202.22" r="4.2"/><circle cx="1002.71" cy="202.31" r="4.2"/><circle cx="1003.78" cy="202.39" r="4.2"/><circle cx="1004.84" cy="202.47" r="4.2"/><circle cx="1005.9" cy="202.55" r="4.2"/><circle cx="1006.97" cy="202.63" r="4.2"/><circle cx="1008.04" cy="202.71" r="4.2"/><circle cx="1009.1" cy="202.79" r="4.2"/><circle cx="1010.17" cy="202.87" r="4.2"/><circle cx="1011.23" cy="202.95" r="4.2"/><circle cx="1012.3" cy="203.03" r="4.2"/><circle cx="1013.36" cy="203.11" r="4.2"/><circle cx="1014.43" cy="203.19" r="4.2"/><circle cx="1015.49" cy="203.27" r="4.2"/><circle cx="1016.56" cy="203.35" r="4.2"/><circle cx="1017.62" cy="203.43" r="4.2"/><circle cx="1018.69" cy="203.52" r="4.2"/><circle cx="1019.75" cy="203.6" r="4.2"/><circle cx="1020.82" cy="203.68" r="4.2"/><circle cx="1021.88" cy="203.76" r="4.2"/><circle cx="1022.95" cy="203.84" r="4.2"/><circle cx="1024.01" cy="203.92" r="4.2"/><circle cx="1025.08" cy="204" r="4.2"/><circle cx="1026.14" cy="204.08" r="4.2"/><circle cx="1027.2" cy="204.16" r="4.2"/><circle cx="1028.27" cy="204.24" r="4.2"/><circle cx="1029.34" cy="204.32" r="4.2"/><circle cx="1030.4" cy="204.4" r="4.2"/><circle cx="1031.47" cy="204.48" r="4.2"/><circle cx="1032.53" cy="204.56" r="4.2"/><circle cx="1033.6" cy="204.65" r="4.2"/><circle cx="1034.66" cy="204.73" r="4.2"/><circle cx="1035.72" cy="204.81" r="4.2"/><circle cx="1036.79" cy="204.89" r="4.2"/><circle cx="1037.86" cy="204.97" r="4.2"/><circle cx="1038.92" cy="205.05" r="4.2"/><circle cx="1039.99" cy="205.13" r="4.2"/><circle cx="1041.05" cy="205.21" r="4.2"/><circle cx="1042.12" cy="205.29" r="4.2"/><circle cx="1043.18" cy="205.37" r="4.2"/><circle cx="1044.25" cy="205.45" r="4.2"/><circle cx="1045.31" cy="205.54" r="4.2"/><circle cx="1046.38" cy="205.62" r="4.2"/><circle cx="1047.44" cy="205.7" r="4.2"/><circle cx="1048.51" cy="205.78" r="4.2"/><circle cx="1049.57" cy="205.86" r="4.2"/><circle cx="1050.63" cy="205.94" r="4.2"/><circle cx="1051.7" cy="206.02" r="4.2"/><circle cx="1052.77" cy="206.1" r="4.2"/><circle cx="1053.83" cy="206.18" r="4.2"/><circle cx="1054.89" cy="206.26" r="4.2"/><circle cx="1055.96" cy="206.34" r="4.2"/><circle cx="1057.03" cy="206.43" r="4.2"/><circle cx="1058.09" cy="206.51" r="4.2"/><circle cx="1059.15" cy="206.63" r="4.2"/><circle cx="1060.22" cy="206.75" r="4.2"/><circle cx="1061.29" cy="206.87" r="4.2"/><circle cx="1062.35" cy="206.99" r="4.2"/><circle cx="1063.41" cy="207.12" r="4.2"/><circle cx="1064.48" cy="207.24" r="4.2"/><circle cx="1065.55" cy="207.36" r="4.2"/><circle cx="1066.61" cy="207.48" r="4.2"/><circle cx="1067.67" cy="207.6" r="4.2"/><circle cx="1068.74" cy="207.72" r="4.2"/><circle cx="1069.81" cy="207.84" r="4.2"/><circle cx="1070.87" cy="207.96" r="4.2"/><circle cx="1071.93" cy="208.08" r="4.2"/><circle cx="1073" cy="208.2" r="4.2"/><circle cx="1074.07" cy="208.33" r="4.2"/><circle cx="1075.13" cy="208.45" r="4.2"/><circle cx="1076.19" cy="208.57" r="4.2"/><circle cx="1077.26" cy="208.69" r="4.2"/><circle cx="1078.33" cy="208.81" r="4.2"/><circle cx="1079.39" cy="208.93" r="4.2"/><circle cx="1080.45" cy="209.1" r="4.2"/><circle cx="1081.52" cy="209.35" r="4.2"/><circle cx="1082.59" cy="209.6" r="4.2"/><circle cx="1083.65" cy="209.84" r="4.2"/><circle cx="1084.72" cy="210.09" r="4.2"/><circle cx="1085.78" cy="210.33" r="4.2"/><circle cx="1086.85" cy="210.58" r="4.2"/><circle cx="1087.91" cy="210.83" r="4.2"/><circle cx="1088.97" cy="211.07" r="4.2"/><circle cx="1090.04" cy="211.32" r="4.2"/><circle cx="1091.11" cy="211.56" r="4.2"/><circle cx="1092.17" cy="211.81" r="4.2"/><circle cx="1093.24" cy="212.04" r="4.2"/><circle cx="1094.3" cy="212.28" r="4.2"/><circle cx="1095.37" cy="212.52" r="4.2"/><circle cx="1096.43" cy="212.76" r="4.2"/><circle cx="1097.49" cy="213" r="4.2"/><circle cx="1098.56" cy="213.24" r="4.2"/><circle cx="1099.62" cy="213.48" r="4.2"/><circle cx="1100.69" cy="213.72" r="4.2"/><circle cx="1101.76" cy="213.95" r="4.2"/><circle cx="1102.82" cy="214.19" r="4.2"/><circle cx="1103.88" cy="214.42" r="4.2"/><circle cx="1104.95" cy="214.62" r="4.2"/><circle cx="1106.02" cy="214.83" r="4.2"/><circle cx="1107.08" cy="215.04" r="4.2"/><circle cx="1108.14" cy="215.25" r="4.2"/><circle cx="1109.21" cy="215.46" r="4.2"/><circle cx="1110.28" cy="215.67" r="4.2"/><circle cx="1111.34" cy="215.88" r="4.2"/><circle cx="1112.4" cy="216.09" r="4.2"/><circle cx="1113.47" cy="216.3" r="4.2"/><circle cx="1114.54" cy="216.51" r="4.2"/><circle cx="1115.6" cy="216.84" r="4.2"/><circle cx="1116.66" cy="217.27" r="4.2"/><circle cx="1117.73" cy="217.7" r="4.2"/><circle cx="1118.8" cy="218.12" r="4.2"/><circle cx="1119.86" cy="218.55" r="4.2"/><circle cx="1120.92" cy="218.98" r="4.2"/><circle cx="1121.99" cy="219.41" r="4.2"/><circle cx="1123.06" cy="219.84" r="4.2"/><circle cx="1124.12" cy="220.26" r="4.2"/><circle cx="1125.18" cy="220.69" r="4.2"/><circle cx="1126.25" cy="221.12" r="4.2"/><circle cx="1127.32" cy="221.61" r="4.2"/><circle cx="1128.38" cy="222.14" r="4.2"/><circle cx="1129.45" cy="222.67" r="4.2"/><circle cx="1130.51" cy="223.2" r="4.2"/><circle cx="1131.58" cy="223.74" r="4.2"/><circle cx="1132.64" cy="224.27" r="4.2"/><circle cx="1133.7" cy="224.8" r="4.2"/><circle cx="1134.77" cy="225.34" r="4.2"/><circle cx="1135.84" cy="225.87" r="4.2"/><circle cx="1136.9" cy="226.4" r="4.2"/><circle cx="1137.97" cy="226.93" r="4.2"/><circle cx="1139.03" cy="227.52" r="4.2"/><circle cx="1140.1" cy="228.13" r="4.2"/><circle cx="1141.16" cy="228.73" r="4.2"/><circle cx="1142.22" cy="229.34" r="4.2"/><circle cx="1143.29" cy="229.93" r="4.2"/><circle cx="1144.36" cy="230.51" r="4.2"/><circle cx="1145.42" cy="231.09" r="4.2"/><circle cx="1146.49" cy="231.67" r="4.2"/><circle cx="1147.55" cy="232.38" r="4.2"/><circle cx="1148.62" cy="233.29" r="4.2"/><circle cx="1149.68" cy="234.19" r="4.2"/><circle cx="1150.74" cy="235.09" r="4.2"/><circle cx="1151.81" cy="236" r="4.2"/><circle cx="1152.88" cy="237.32" r="4.2"/><circle cx="1153.94" cy="239.17" r="4.2"/><circle cx="1155.01" cy="241.02" r="4.2"/><circle cx="1156.07" cy="242.87" r="4.2"/><circle cx="1157.13" cy="244.71" r="4.2"/><circle cx="1158.2" cy="245.99" r="4.2"/><circle cx="1159.27" cy="247.17" r="4.2"/><circle cx="1160.33" cy="248.34" r="4.2"/><circle cx="1161.39" cy="249.52" r="4.2"/><circle cx="1162.46" cy="250.69" r="4.2"/><circle cx="1163.53" cy="251.88" r="4.2"/><circle cx="1164.59" cy="253.1" r="4.2"/><circle cx="1165.65" cy="254.31" r="4.2"/><circle cx="1166.72" cy="255.52" r="4.2"/><circle cx="1167.79" cy="256.73" r="4.2"/><circle cx="1168.85" cy="257.94" r="4.2"/><circle cx="1169.91" cy="259.21" r="4.2"/><circle cx="1170.98" cy="260.49" r="4.2"/><circle cx="1172.05" cy="261.76" r="4.2"/><circle cx="1173.11" cy="263.41" r="4.2"/><circle cx="1174.17" cy="268.33" r="4.2"/><circle cx="1175.24" cy="271.27" r="4.2"/><circle cx="1176.31" cy="272.88" r="4.2"/><circle cx="1177.37" cy="274.5" r="4.2"/><circle cx="1178.43" cy="277.76" r="4.2"/><circle cx="1179.5" cy="282.66" r="4.2"/><circle cx="1180.57" cy="287.38" r="4.2"/><circle cx="1181.63" cy="291.13" r="4.2"/><circle cx="1182.7" cy="296.32" r="4.2"/><circle cx="1183.76" cy="305.05" r="4.2"/><circle cx="1184.83" cy="309.8" r="4.2"/><circle cx="1185.4" cy="377.2" r="4.1"/></g>
<circle cx="1186" cy="389" r="4.1" fill="#000" fill-opacity="0.45"/>
<circle cx="1189" cy="389" r="4.1" fill="#000" fill-opacity="0.45"/>
<circle cx="1192" cy="389" r="4.1" fill="#000" fill-opacity="0.45"/>
<circle cx="1194" cy="389" r="4.1" fill="#000" fill-opacity="0.45"/>
<line x1="838.7" y1="31" x2="838.7" y2="390.5" stroke="#000" stroke-width="3.2" />
<line x1="837.2" y1="389.2" x2="1198" y2="389.2" stroke="#000" stroke-width="3" />
<circle cx="839" cy="32.6" r="5.5" fill="#ffa040" stroke="#c46200" stroke-width="3.2"/>
<circle cx="839.6" cy="92.6" r="5.4" fill="#ff80c0" stroke="#e8509a" stroke-width="3.0"/>
<circle cx="841" cy="93.2" r="5.4" fill="#8890ff" stroke="#7a52b0" stroke-width="3.0"/>
<circle cx="844.7" cy="143.8" r="5.4" fill="#7a80f0" stroke="#7a52b0" stroke-width="3.0"/>
<circle cx="848.9" cy="150.1" r="5.4" fill="#8088f8" stroke="#7a52b0" stroke-width="3.0"/>
<circle cx="849.9" cy="157.5" r="5.4" fill="#6a4050" stroke="#e8509a" stroke-width="3.0"/>
<circle cx="861.5" cy="180.7" r="5.4" fill="#1a4a70" stroke="#3a5fb0" stroke-width="3.0"/>
<circle cx="881.9" cy="187.9" r="5.4" fill="#2a4a2a" stroke="#10a010" stroke-width="3.0"/>
<circle cx="919.6" cy="194.6" r="5.4" fill="#4a4a08" stroke="#f09a10" stroke-width="3.0"/>
<text x="853.5" y="38" font-size="20.5" text-anchor="start" font-weight="normal" fill="#c76a12" >Cholic acid</text>
<text x="854.2" y="64.2" font-size="20.5" text-anchor="start" font-weight="normal" fill="#e8559a" >DMAP</text>
<line x1="844.2" y1="84.2" x2="852.5" y2="65" stroke="#e8559a" stroke-width="2.2" />
<text x="860.8" y="90" font-size="20.5" text-anchor="start" font-weight="normal" fill="#8a5cbf" >PE</text>
<line x1="849.2" y1="90.8" x2="858" y2="85" stroke="#8a5cbf" stroke-width="2.2" />
<text x="850.8" y="113.3" font-size="20.5" text-anchor="start" font-weight="normal" fill="#8a5cbf" >PA</text>
<line x1="854.2" y1="117.7" x2="849.2" y2="136" stroke="#8a5cbf" stroke-width="2.2" />
<text x="864.2" y="131.7" font-size="20.5" text-anchor="start" font-weight="normal" fill="#8a5cbf" >PS</text>
<line x1="865" y1="134.2" x2="856" y2="145.7" stroke="#8a5cbf" stroke-width="2.2" />
<text x="870.2" y="148.75" font-size="20.5" text-anchor="start" font-weight="normal" fill="#e8559a" >Adenine</text>
<line x1="868.3" y1="149.2" x2="858.7" y2="154.7" stroke="#e8559a" stroke-width="2.2" />
<text x="886" y="166.75" font-size="20.5" text-anchor="start" font-weight="normal" fill="#3a60b0" >PGD2, PGE2, PGI2</text>
<line x1="882" y1="166" x2="867.2" y2="174.5" stroke="#3a60b0" stroke-width="2.2" />
<text x="901.75" y="185.5" font-size="20.5" text-anchor="start" font-weight="normal" fill="#10a820" >DA</text>
<line x1="899.5" y1="181.4" x2="889" y2="184.3" stroke="#10a820" stroke-width="2.2" />
<text x="942.7" y="191.2" font-size="20.5" text-anchor="start" font-weight="normal" fill="#f0a020" >SAH</text>
<line x1="940" y1="187.4" x2="925.7" y2="190.3" stroke="#f0a020" stroke-width="2.2" />
<text x="19" y="480.3" font-size="26" text-anchor="start" font-weight="bold" fill="#000" >c.</text>
<polyline points="112,605.7 124,585.1 148.3,590 150.7,614.3 128.7,623.7 112,605.7" fill="none" stroke="#000" stroke-width="1.9" stroke-linejoin="round" stroke-linecap="round"/>
<line x1="128" y1="624" x2="123.3" y2="640" stroke="#000" stroke-width="1.9" stroke-linecap="round"/>
<line x1="130.9" y1="624.7" x2="126.6" y2="640.3" stroke="#000" stroke-width="1.9" stroke-linecap="round"/>
<text x="123.2" y="655.2" font-size="13.7" text-anchor="middle" font-weight="normal" fill="#000" >O</text>
<line x1="121.24" y1="581.03" x2="122.74" y2="580.35" stroke="#000" stroke-width="1.8" />
<line x1="118.17" y1="576.51" x2="121.34" y2="575.07" stroke="#000" stroke-width="1.8" />
<line x1="115.1" y1="571.99" x2="119.94" y2="569.79" stroke="#000" stroke-width="1.8" />
<text x="100.2" y="568.2" font-size="13.7" text-anchor="start" font-weight="normal" fill="#000" >HO</text>
<line x1="151.34" y1="586.24" x2="152.34" y2="587.36" stroke="#000" stroke-width="1.8" />
<line x1="154.37" y1="582.49" x2="156.39" y2="584.71" stroke="#000" stroke-width="1.8" />
<line x1="157.41" y1="578.73" x2="160.43" y2="582.07" stroke="#000" stroke-width="1.8" />
<line x1="160.45" y1="574.97" x2="164.47" y2="579.43" stroke="#000" stroke-width="1.8" />
<polyline points="166,574 189.3,581.3 206,564 199.7,540.9 216.7,523.6 210.7,500.4 227.3,484 243.7,487.6" fill="none" stroke="#000" stroke-width="1.9" stroke-linejoin="round" stroke-linecap="round"/>
<line x1="188.7" y1="576.3" x2="201.3" y2="563.3" stroke="#000" stroke-width="1.9" stroke-linecap="round"/>
<line x1="221.3" y1="468" x2="226" y2="483.3" stroke="#000" stroke-width="1.9" stroke-linecap="round"/>
<line x1="226.2" y1="467" x2="230.4" y2="483" stroke="#000" stroke-width="1.9" stroke-linecap="round"/>
<text x="221.6" y="465.4" font-size="13.7" text-anchor="middle" font-weight="normal" fill="#000" >O</text>
<text x="246.5" y="493.7" font-size="13.7" text-anchor="start" font-weight="normal" fill="#000" >OH</text>
<polygon points="150.7,614.3 169.07,629.82 172.33,624.78" fill="#000" stroke="#000" stroke-width="0.6" />
<polyline points="170.7,627.3 192.7,614 213.5,626 234.5,614 255.3,626.3 276.4,614 297.3,626.3 317.9,614.4" fill="none" stroke="#000" stroke-width="1.9" stroke-linejoin="round" stroke-linecap="round"/>
<line x1="174" y1="630.3" x2="192.4" y2="619.6" stroke="#000" stroke-width="1.9" stroke-linecap="round"/>
<line x1="214.32" y1="630.65" x2="212.68" y2="630.65" stroke="#000" stroke-width="1.8" />
<line x1="215.24" y1="635.82" x2="211.76" y2="635.82" stroke="#000" stroke-width="1.8" />
<line x1="216.16" y1="640.98" x2="210.84" y2="640.98" stroke="#000" stroke-width="1.8" />
<text x="208.5" y="654.7" font-size="13.7" text-anchor="start" font-weight="normal" fill="#000" >OH</text>
<polyline points="522.5,607.7 534.5,587.1 558.8,592 561.2,616.3 539.2,625.7 522.5,607.7" fill="none" stroke="#000" stroke-width="1.9" stroke-linejoin="round" stroke-linecap="round"/>
<line x1="534.1" y1="587.4" x2="527.2" y2="574.2" stroke="#000" stroke-width="1.9" stroke-linecap="round"/>
<line x1="537" y1="586" x2="530.1" y2="572.8" stroke="#000" stroke-width="1.9" stroke-linecap="round"/>
<text x="524.1" y="569.8" font-size="13.7" text-anchor="middle" font-weight="normal" fill="#000" >O</text>
<line x1="538.68" y1="630.81" x2="537.08" y2="630.37" stroke="#000" stroke-width="1.8" />
<line x1="538.09" y1="636.48" x2="534.73" y2="635.57" stroke="#000" stroke-width="1.8" />
<line x1="537.51" y1="642.15" x2="532.38" y2="640.76" stroke="#000" stroke-width="1.8" />
<text x="517.8" y="654.7" font-size="13.7" text-anchor="start" font-weight="normal" fill="#000" >HO</text>
<line x1="561.84" y1="588.24" x2="562.84" y2="589.36" stroke="#000" stroke-width="1.8" />
<line x1="564.87" y1="584.49" x2="566.89" y2="586.71" stroke="#000" stroke-width="1.8" />
<line x1="567.91" y1="580.73" x2="570.93" y2="584.07" stroke="#000" stroke-width="1.8" />
<line x1="570.95" y1="576.97" x2="574.97" y2="581.43" stroke="#000" stroke-width="1.8" />
<polyline points="576.5,576 599.8,583.3 616.5,566 610.2,542.9 627.2,525.6 621.2,502.4 637.8,486 654.2,489.6" fill="none" stroke="#000" stroke-width="1.9" stroke-linejoin="round" stroke-linecap="round"/>
<line x1="599.2" y1="578.3" x2="611.8" y2="565.3" stroke="#000" stroke-width="1.9" stroke-linecap="round"/>
<line x1="631.8" y1="470" x2="636.5" y2="485.3" stroke="#000" stroke-width="1.9" stroke-linecap="round"/>
<line x1="636.7" y1="469" x2="640.9" y2="485" stroke="#000" stroke-width="1.9" stroke-linecap="round"/>
<text x="632.1" y="467.4" font-size="13.7" text-anchor="middle" font-weight="normal" fill="#000" >O</text>
<text x="657" y="495.7" font-size="13.7" text-anchor="start" font-weight="normal" fill="#000" >OH</text>
<polygon points="561.2,616.3 579.57,631.82 582.83,626.78" fill="#000" stroke="#000" stroke-width="0.6" />
<polyline points="581.2,629.3 603.2,616 624,628 645,616 665.8,628.3 686.9,616 707.8,628.3 728.4,616.4" fill="none" stroke="#000" stroke-width="1.9" stroke-linejoin="round" stroke-linecap="round"/>
<line x1="584.5" y1="632.3" x2="602.9" y2="621.6" stroke="#000" stroke-width="1.9" stroke-linecap="round"/>
<line x1="624.83" y1="632.65" x2="623.17" y2="632.65" stroke="#000" stroke-width="1.8" />
<line x1="625.74" y1="637.82" x2="622.26" y2="637.82" stroke="#000" stroke-width="1.8" />
<line x1="626.66" y1="642.98" x2="621.34" y2="642.98" stroke="#000" stroke-width="1.8" />
<text x="619" y="656.7" font-size="13.7" text-anchor="start" font-weight="normal" fill="#000" >OH</text>
<polyline points="1006.2,595.8 1028.3,586.7 1044.7,603.9 1033,624.9 1009.1,620.3 1006.2,595.8" fill="none" stroke="#000" stroke-width="1.9" stroke-linejoin="round" stroke-linecap="round"/>
<polygon points="1028.3,586.7 1042.62,567.16 1037.38,564.24" fill="#000" stroke="#000" stroke-width="0.6" />
<polyline points="1040,565.7 1063.9,570.6 1065.7,586.5" fill="none" stroke="#000" stroke-width="1.9" stroke-linejoin="round" stroke-linecap="round"/>
<polygon points="1044.7,603.9 1060.64,600.57 1058.36,595.03" fill="#000" stroke="#000" stroke-width="0.6" />
<text x="1066.4" y="599.6" font-size="13.7" text-anchor="middle" font-weight="normal" fill="#000" >O</text>
<polyline points="1063.9,570.6 1081.8,554.2 1104.9,561.4 1121.8,544.6 1145.2,550.9 1162.1,534.3 1177.3,537.8" fill="none" stroke="#000" stroke-width="1.9" stroke-linejoin="round" stroke-linecap="round"/>
<line x1="1068.6" y1="572.1" x2="1082.9" y2="559.5" stroke="#000" stroke-width="1.9" stroke-linecap="round"/>
<line x1="1155.7" y1="518.6" x2="1160.3" y2="534.9" stroke="#000" stroke-width="1.9" stroke-linecap="round"/>
<line x1="1160.1" y1="517.8" x2="1163.8" y2="533.8" stroke="#000" stroke-width="1.9" stroke-linecap="round"/>
<text x="1156" y="515.9" font-size="13.7" text-anchor="middle" font-weight="normal" fill="#000" >O</text>
<text x="1181" y="544.8" font-size="13.7" text-anchor="start" font-weight="normal" fill="#000" >OH</text>
<line x1="1001.83" y1="594.15" x2="1002.57" y2="592.85" stroke="#000" stroke-width="1.8" />
<line x1="997.45" y1="592.5" x2="998.95" y2="589.9" stroke="#000" stroke-width="1.8" />
<line x1="993.08" y1="590.85" x2="995.32" y2="586.95" stroke="#000" stroke-width="1.8" />
<line x1="988.7" y1="589.2" x2="991.7" y2="584" stroke="#000" stroke-width="1.8" />
<polyline points="986.2,584.3 964.6,596 944,584.2 922.8,596 902.2,584.2 881,596 860.2,584.2 839.6,596" fill="none" stroke="#000" stroke-width="1.9" stroke-linejoin="round" stroke-linecap="round"/>
<line x1="966.7" y1="599.5" x2="985.8" y2="588.6" stroke="#000" stroke-width="1.9" stroke-linecap="round"/>
<line x1="943.17" y1="579.49" x2="944.83" y2="579.49" stroke="#000" stroke-width="1.8" />
<line x1="942.26" y1="574.26" x2="945.74" y2="574.26" stroke="#000" stroke-width="1.8" />
<line x1="941.34" y1="569.02" x2="946.66" y2="569.02" stroke="#000" stroke-width="1.8" />
<text x="938.8" y="564.4" font-size="13.7" text-anchor="start" font-weight="normal" fill="#000" >OH</text>
<polygon points="1009.1,620.3 995.24,630.16 999.96,634.64" fill="#000" stroke="#000" stroke-width="0.6" />
<text x="976.6" y="640.6" font-size="13.7" text-anchor="start" font-weight="normal" fill="#000" >HO</text>
<text x="16.9" y="698.8" font-size="26" text-anchor="start" font-weight="bold" fill="#000" >d.</text>
<text x="220" y="713.8" font-size="27.8" text-anchor="middle" font-weight="bold" fill="#0b4385" >Prostaglandin-D2</text>
<line x1="90.5" y1="737.9" x2="90.5" y2="1009.7" stroke="#000" stroke-width="3" />
<line x1="89" y1="1008.2" x2="358.7" y2="1008.2" stroke="#000" stroke-width="3" />
<line x1="79" y1="739.4" x2="90.5" y2="739.4" stroke="#000" stroke-width="3" />
<text x="74.8" y="747" font-size="21.3" text-anchor="end" font-weight="normal" fill="#000" >56.4</text>
<line x1="79" y1="790.6" x2="90.5" y2="790.6" stroke="#000" stroke-width="3" />
<text x="74.8" y="798.2" font-size="21.3" text-anchor="end" font-weight="normal" fill="#000" >56.0</text>
<line x1="79" y1="841.8" x2="90.5" y2="841.8" stroke="#000" stroke-width="3" />
<text x="74.8" y="849.4" font-size="21.3" text-anchor="end" font-weight="normal" fill="#000" >55.6</text>
<line x1="79" y1="893" x2="90.5" y2="893" stroke="#000" stroke-width="3" />
<text x="74.8" y="900.6" font-size="21.3" text-anchor="end" font-weight="normal" fill="#000" >55.2</text>
<line x1="79" y1="944.2" x2="90.5" y2="944.2" stroke="#000" stroke-width="3" />
<text x="74.8" y="951.8" font-size="21.3" text-anchor="end" font-weight="normal" fill="#000" >54.8</text>
<line x1="79" y1="995.4" x2="90.5" y2="995.4" stroke="#000" stroke-width="3" />
<text x="74.8" y="1003" font-size="21.3" text-anchor="end" font-weight="normal" fill="#000" >54.4</text>
<line x1="131.7" y1="1008.2" x2="131.7" y2="1019.5" stroke="#000" stroke-width="3" />
<line x1="193.8" y1="1008.2" x2="193.8" y2="1019.5" stroke="#000" stroke-width="3" />
<line x1="255.6" y1="1008.2" x2="255.6" y2="1019.5" stroke="#000" stroke-width="3" />
<line x1="318.2" y1="1008.2" x2="318.2" y2="1019.5" stroke="#000" stroke-width="3" />
<text transform="translate(16.3,909.2) rotate(-90)" font-size="22">T<tspan font-size="15.8" dy="7.9">m</tspan><tspan dy="-7.9"> (</tspan><tspan font-size="15.8" dy="-7.9">o</tspan><tspan dy="7.9">C)</tspan></text>
<text transform="translate(137.1,1036.4) rotate(-45)" font-size="20.5" text-anchor="end">DMSO</text>
<text transform="translate(199.2,1036.4) rotate(-45)" font-size="20.5" text-anchor="end">0.1 mM</text>
<text transform="translate(261,1036.4) rotate(-45)" font-size="20.5" text-anchor="end">0.25 mM</text>
<text transform="translate(323.6,1036.4) rotate(-45)" font-size="20.5" text-anchor="end">0.5 mM</text>
<line x1="131.7" y1="923.1" x2="131.7" y2="963" stroke="#000" stroke-width="3" />
<line x1="111.2" y1="943" x2="152.2" y2="943" stroke="#000" stroke-width="3" />
<line x1="120.4" y1="923.1" x2="143" y2="923.1" stroke="#000" stroke-width="3" stroke-linecap="round"/>
<line x1="120.4" y1="963" x2="143" y2="963" stroke="#000" stroke-width="3" stroke-linecap="round"/>
<circle cx="131.7" cy="914.6" r="5.3" fill="#005594" />
<circle cx="131.7" cy="942.9" r="5.3" fill="#005594" />
<circle cx="116.5" cy="957.2" r="5.3" fill="#005594" />
<circle cx="147.1" cy="957.2" r="5.3" fill="#005594" />
<line x1="193.8" y1="891.7" x2="193.8" y2="962.5" stroke="#000" stroke-width="3" />
<line x1="173.3" y1="927.5" x2="214.3" y2="927.5" stroke="#000" stroke-width="3" />
<line x1="182.5" y1="891.7" x2="205.1" y2="891.7" stroke="#000" stroke-width="3" stroke-linecap="round"/>
<line x1="182.5" y1="962.5" x2="205.1" y2="962.5" stroke="#000" stroke-width="3" stroke-linecap="round"/>
<circle cx="193.7" cy="886.7" r="5.3" fill="#005594" />
<circle cx="193.7" cy="908.3" r="5.3" fill="#005594" />
<circle cx="178.6" cy="958.3" r="5.3" fill="#005594" />
<circle cx="209.2" cy="955.8" r="5.3" fill="#005594" />
<line x1="255.8" y1="875.2" x2="255.8" y2="928" stroke="#000" stroke-width="3" />
<line x1="235.3" y1="901.7" x2="276.3" y2="901.7" stroke="#000" stroke-width="3" />
<line x1="244.5" y1="875.2" x2="267.1" y2="875.2" stroke="#000" stroke-width="3" stroke-linecap="round"/>
<line x1="244.5" y1="928" x2="267.1" y2="928" stroke="#000" stroke-width="3" stroke-linecap="round"/>
<circle cx="255.8" cy="857" r="5.3" fill="#005594" />
<circle cx="240.5" cy="901.7" r="5.3" fill="#005594" />
<circle cx="255.8" cy="912.2" r="5.3" fill="#005594" />
<circle cx="271.3" cy="910.8" r="5.3" fill="#005594" />
<circle cx="255.8" cy="926.3" r="5.3" fill="#005594" />
<line x1="318" y1="783" x2="318" y2="871" stroke="#000" stroke-width="3" />
<line x1="297.5" y1="826.6" x2="338.5" y2="826.6" stroke="#000" stroke-width="3" />
<line x1="306.7" y1="783" x2="329.3" y2="783" stroke="#000" stroke-width="3" stroke-linecap="round"/>
<line x1="306.7" y1="871" x2="329.3" y2="871" stroke="#000" stroke-width="3" stroke-linecap="round"/>
<circle cx="318" cy="761" r="5.3" fill="#005594" />
<circle cx="302.6" cy="825" r="5.3" fill="#005594" />
<circle cx="333" cy="821" r="5.3" fill="#005594" />
<circle cx="318" cy="845.6" r="5.3" fill="#005594" />
<circle cx="318" cy="881.7" r="5.3" fill="#005594" />
<polyline points="130,814 130,805 251,805 251,814" fill="none" stroke="#000" stroke-width="3" />
<text x="191" y="805" font-size="20" text-anchor="middle" font-weight="normal" fill="#000" >*</text>
<polyline points="130,862 130,853.6 191,853.6 191,862" fill="none" stroke="#000" stroke-width="3" />
<text x="160.7" y="848" font-size="20" text-anchor="middle" font-weight="normal" fill="#000" >ns</text>
<polyline points="132.6,973 132.6,982 315.8,982 315.8,973.3" fill="none" stroke="#000" stroke-width="3" />
<text x="224.4" y="1003.2" font-size="20" text-anchor="middle" font-weight="normal" fill="#000" >**</text>
<text x="636" y="714.2" font-size="27.8" text-anchor="middle" font-weight="bold" fill="#0b4385" >Prostaglandin-E2</text>
<line x1="499.7" y1="738.8" x2="499.7" y2="1009.5" stroke="#000" stroke-width="3" />
<line x1="498.2" y1="1008" x2="778" y2="1008" stroke="#000" stroke-width="3" />
<line x1="488.2" y1="740.25" x2="499.7" y2="740.25" stroke="#000" stroke-width="3" />
<text x="482.5" y="747.85" font-size="21.3" text-anchor="end" font-weight="normal" fill="#000" >56.4</text>
<line x1="488.2" y1="778.5" x2="499.7" y2="778.5" stroke="#000" stroke-width="3" />
<text x="482.5" y="786.1" font-size="21.3" text-anchor="end" font-weight="normal" fill="#000" >56.0</text>
<line x1="488.2" y1="816.75" x2="499.7" y2="816.75" stroke="#000" stroke-width="3" />
<text x="482.5" y="824.35" font-size="21.3" text-anchor="end" font-weight="normal" fill="#000" >55.6</text>
<line x1="488.2" y1="855" x2="499.7" y2="855" stroke="#000" stroke-width="3" />
<text x="482.5" y="862.6" font-size="21.3" text-anchor="end" font-weight="normal" fill="#000" >55.2</text>
<line x1="488.2" y1="893.25" x2="499.7" y2="893.25" stroke="#000" stroke-width="3" />
<text x="482.5" y="900.85" font-size="21.3" text-anchor="end" font-weight="normal" fill="#000" >54.8</text>
<line x1="488.2" y1="931.5" x2="499.7" y2="931.5" stroke="#000" stroke-width="3" />
<text x="482.5" y="939.1" font-size="21.3" text-anchor="end" font-weight="normal" fill="#000" >54.4</text>
<line x1="488.2" y1="969.75" x2="499.7" y2="969.75" stroke="#000" stroke-width="3" />
<text x="482.5" y="977.35" font-size="21.3" text-anchor="end" font-weight="normal" fill="#000" >54.0</text>
<line x1="488.2" y1="1008" x2="499.7" y2="1008" stroke="#000" stroke-width="3" />
<text x="482.5" y="1015.6" font-size="21.3" text-anchor="end" font-weight="normal" fill="#000" >53.6</text>
<line x1="541.5" y1="1008" x2="541.5" y2="1019.3" stroke="#000" stroke-width="3" />
<line x1="606.6" y1="1008" x2="606.6" y2="1019.3" stroke="#000" stroke-width="3" />
<line x1="671.4" y1="1008" x2="671.4" y2="1019.3" stroke="#000" stroke-width="3" />
<line x1="735.6" y1="1008" x2="735.6" y2="1019.3" stroke="#000" stroke-width="3" />
<text transform="translate(421.8,909.2) rotate(-90)" font-size="22">T<tspan font-size="15.8" dy="7.9">m</tspan><tspan dy="-7.9"> (</tspan><tspan font-size="15.8" dy="-7.9">o</tspan><tspan dy="7.9">C)</tspan></text>
<text transform="translate(546.9,1036.4) rotate(-45)" font-size="20.5" text-anchor="end">DMSO</text>
<text transform="translate(612,1036.4) rotate(-45)" font-size="20.5" text-anchor="end">0.1 mM</text>
<text transform="translate(676.8,1036.4) rotate(-45)" font-size="20.5" text-anchor="end">0.25 mM</text>
<text transform="translate(741,1036.4) rotate(-45)" font-size="20.5" text-anchor="end">0.5 mM</text>
<line x1="541.5" y1="903.9" x2="541.5" y2="924.9" stroke="#000" stroke-width="3" />
<line x1="521" y1="914.4" x2="562" y2="914.4" stroke="#000" stroke-width="3" />
<line x1="530.2" y1="903.9" x2="552.8" y2="903.9" stroke="#000" stroke-width="3" stroke-linecap="round"/>
<line x1="530.2" y1="924.9" x2="552.8" y2="924.9" stroke="#000" stroke-width="3" stroke-linecap="round"/>
<circle cx="525.6" cy="905.1" r="5.3" fill="#005594" />
<circle cx="558" cy="913.5" r="5.3" fill="#005594" />
<circle cx="541.5" cy="925.5" r="5.3" fill="#005594" />
<line x1="606.6" y1="930.6" x2="606.6" y2="972" stroke="#000" stroke-width="3" />
<line x1="586.1" y1="952" x2="627.1" y2="952" stroke="#000" stroke-width="3" />
<line x1="595.3" y1="930.6" x2="617.9" y2="930.6" stroke="#000" stroke-width="3" stroke-linecap="round"/>
<line x1="595.3" y1="972" x2="617.9" y2="972" stroke="#000" stroke-width="3" stroke-linecap="round"/>
<circle cx="590.4" cy="939.6" r="5.3" fill="#005594" />
<circle cx="623.1" cy="940.5" r="5.3" fill="#005594" />
<circle cx="606.6" cy="976.5" r="5.3" fill="#005594" />
<line x1="671.4" y1="900" x2="671.4" y2="977" stroke="#000" stroke-width="3" />
<line x1="650.9" y1="938.4" x2="691.9" y2="938.4" stroke="#000" stroke-width="3" />
<line x1="660.1" y1="900" x2="682.7" y2="900" stroke="#000" stroke-width="3" stroke-linecap="round"/>
<line x1="660.1" y1="977" x2="682.7" y2="977" stroke="#000" stroke-width="3" stroke-linecap="round"/>
<circle cx="671.4" cy="899.1" r="5.3" fill="#005594" />
<circle cx="671.4" cy="940.5" r="5.3" fill="#005594" />
<circle cx="671.4" cy="976.5" r="5.3" fill="#005594" />
<line x1="735.6" y1="891" x2="735.6" y2="912" stroke="#000" stroke-width="3" />
<line x1="715.1" y1="901.5" x2="756.1" y2="901.5" stroke="#000" stroke-width="3" />
<line x1="724.3" y1="891" x2="746.9" y2="891" stroke="#000" stroke-width="3" stroke-linecap="round"/>
<line x1="724.3" y1="912" x2="746.9" y2="912" stroke="#000" stroke-width="3" stroke-linecap="round"/>
<circle cx="720" cy="894.6" r="5.3" fill="#005594" />
<circle cx="752.1" cy="896.4" r="5.3" fill="#005594" />
<circle cx="735.9" cy="913.5" r="5.3" fill="#005594" />
<line x1="585.9" y1="863.1" x2="753.6" y2="863.1" stroke="#000" stroke-width="3" />
<text x="670.5" y="856.5" font-size="20" text-anchor="middle" font-weight="normal" fill="#000" >ns</text>
<text x="1038.5" y="714.2" font-size="27.8" text-anchor="middle" font-weight="bold" fill="#0b4385" >Prostaglandin-I2</text>
<line x1="913.4" y1="737.5" x2="913.4" y2="1009.7" stroke="#000" stroke-width="3" />
<line x1="911.9" y1="1008.2" x2="1182" y2="1008.2" stroke="#000" stroke-width="3" />
<line x1="901.9" y1="738.9" x2="913.4" y2="738.9" stroke="#000" stroke-width="3" />
<text x="897.5" y="746.5" font-size="21.3" text-anchor="end" font-weight="normal" fill="#000" >56.4</text>
<line x1="901.9" y1="790.1" x2="913.4" y2="790.1" stroke="#000" stroke-width="3" />
<text x="897.5" y="797.7" font-size="21.3" text-anchor="end" font-weight="normal" fill="#000" >56.0</text>
<line x1="901.9" y1="841.3" x2="913.4" y2="841.3" stroke="#000" stroke-width="3" />
<text x="897.5" y="848.9" font-size="21.3" text-anchor="end" font-weight="normal" fill="#000" >55.6</text>
<line x1="901.9" y1="892.5" x2="913.4" y2="892.5" stroke="#000" stroke-width="3" />
<text x="897.5" y="900.1" font-size="21.3" text-anchor="end" font-weight="normal" fill="#000" >55.2</text>
<line x1="901.9" y1="943.7" x2="913.4" y2="943.7" stroke="#000" stroke-width="3" />
<text x="897.5" y="951.3" font-size="21.3" text-anchor="end" font-weight="normal" fill="#000" >54.8</text>
<line x1="901.9" y1="994.9" x2="913.4" y2="994.9" stroke="#000" stroke-width="3" />
<text x="897.5" y="1002.5" font-size="21.3" text-anchor="end" font-weight="normal" fill="#000" >54.4</text>
<line x1="955.2" y1="1008.2" x2="955.2" y2="1019.5" stroke="#000" stroke-width="3" />
<line x1="1016.3" y1="1008.2" x2="1016.3" y2="1019.5" stroke="#000" stroke-width="3" />
<line x1="1079" y1="1008.2" x2="1079" y2="1019.5" stroke="#000" stroke-width="3" />
<line x1="1140.8" y1="1008.2" x2="1140.8" y2="1019.5" stroke="#000" stroke-width="3" />
<text transform="translate(839,908.6) rotate(-90)" font-size="22">T<tspan font-size="15.8" dy="7.9">m</tspan><tspan dy="-7.9"> (</tspan><tspan font-size="15.8" dy="-7.9">o</tspan><tspan dy="7.9">C)</tspan></text>
<text transform="translate(960.6,1036.4) rotate(-45)" font-size="20.5" text-anchor="end">DMSO</text>
<text transform="translate(1021.7,1036.4) rotate(-45)" font-size="20.5" text-anchor="end">0.1 mM</text>
<text transform="translate(1084.4,1036.4) rotate(-45)" font-size="20.5" text-anchor="end">0.25 mM</text>
<text transform="translate(1146.2,1036.4) rotate(-45)" font-size="20.5" text-anchor="end">0.5 mM</text>
<line x1="955.2" y1="957.5" x2="955.2" y2="986" stroke="#000" stroke-width="3" />
<line x1="934.7" y1="972.4" x2="975.7" y2="972.4" stroke="#000" stroke-width="3" />
<line x1="943.9" y1="957.5" x2="966.5" y2="957.5" stroke="#000" stroke-width="3" stroke-linecap="round"/>
<line x1="943.9" y1="986" x2="966.5" y2="986" stroke="#000" stroke-width="3" stroke-linecap="round"/>
<circle cx="955.2" cy="959" r="5.3" fill="#005594" />
<circle cx="955.2" cy="970.8" r="5.3" fill="#005594" />
<circle cx="955.2" cy="985.4" r="5.3" fill="#005594" />
<line x1="1016.3" y1="996.4" x2="1016.3" y2="1009" stroke="#000" stroke-width="3" />
<line x1="995.8" y1="1002.8" x2="1036.8" y2="1002.8" stroke="#000" stroke-width="3" />
<line x1="1005" y1="996.4" x2="1027.6" y2="996.4" stroke="#000" stroke-width="3" stroke-linecap="round"/>
<line x1="1005" y1="1009" x2="1027.6" y2="1009" stroke="#000" stroke-width="3" stroke-linecap="round"/>
<circle cx="1001.1" cy="994.9" r="5.3" fill="#005594" />
<circle cx="1001.1" cy="1007.5" r="5.3" fill="#005594" />
<circle cx="1031.5" cy="1005.6" r="5.3" fill="#005594" />
<line x1="1079" y1="989.8" x2="1079" y2="1001.8" stroke="#000" stroke-width="3" />
<line x1="1058.5" y1="996.1" x2="1099.5" y2="996.1" stroke="#000" stroke-width="3" />
<line x1="1067.7" y1="989.8" x2="1090.3" y2="989.8" stroke="#000" stroke-width="3" stroke-linecap="round"/>
<line x1="1067.7" y1="1001.8" x2="1090.3" y2="1001.8" stroke="#000" stroke-width="3" stroke-linecap="round"/>
<circle cx="1063.2" cy="989.8" r="5.3" fill="#005594" />
<circle cx="1063.2" cy="1002.5" r="5.3" fill="#005594" />
<circle cx="1094.2" cy="994.9" r="5.3" fill="#005594" />
<line x1="1140.8" y1="953.4" x2="1140.8" y2="976.5" stroke="#000" stroke-width="3" />
<line x1="1120.3" y1="964.8" x2="1161.3" y2="964.8" stroke="#000" stroke-width="3" />
<line x1="1129.5" y1="953.4" x2="1152.1" y2="953.4" stroke="#000" stroke-width="3" stroke-linecap="round"/>
<line x1="1129.5" y1="976.5" x2="1152.1" y2="976.5" stroke="#000" stroke-width="3" stroke-linecap="round"/>
<circle cx="1140.8" cy="952.7" r="5.3" fill="#005594" />
<circle cx="1156.3" cy="965.4" r="5.3" fill="#005594" />
<circle cx="1125.6" cy="975.9" r="5.3" fill="#005594" />
<line x1="998" y1="912.2" x2="1159.8" y2="912.2" stroke="#000" stroke-width="3" />
<text x="1078" y="906.2" font-size="20" text-anchor="middle" font-weight="normal" fill="#000" >ns</text>
</svg>
</body></html>
